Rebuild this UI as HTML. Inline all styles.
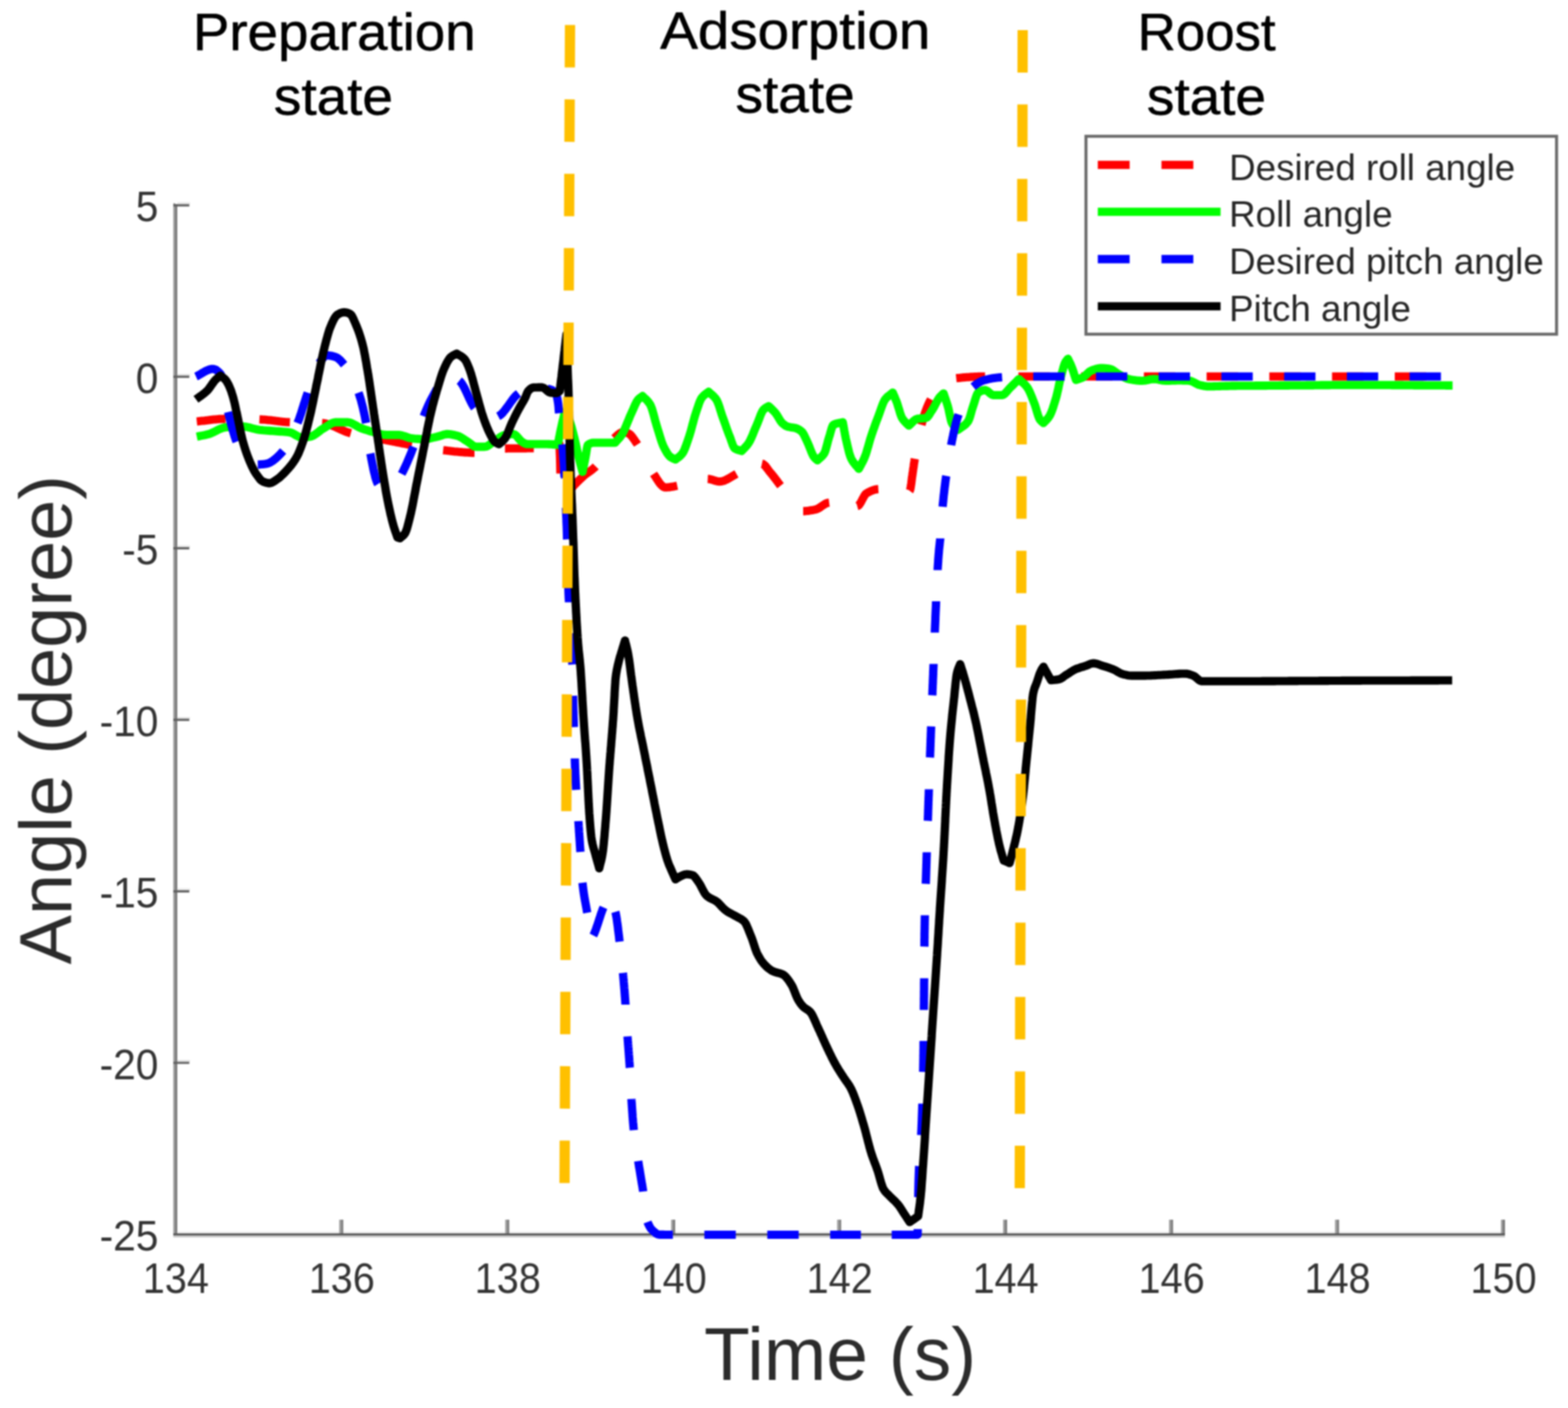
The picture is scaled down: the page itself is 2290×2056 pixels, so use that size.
<!DOCTYPE html>
<html lang="en"><head><meta charset="utf-8"><title>Angle vs Time</title>
<style>html,body{margin:0;padding:0;background:#fff}svg{display:block}</style></head>
<body>
<svg width="2290" height="2056" viewBox="0 0 2290 2056">
<rect width="2290" height="2056" fill="#fff"/>
<defs><filter id="soft" filterUnits="userSpaceOnUse" x="0" y="0" width="2290" height="2056" color-interpolation-filters="sRGB"><feGaussianBlur stdDeviation="1.0"/></filter></defs>
<g filter="url(#soft)">
<g fill="none" stroke-linecap="butt">
<path d="M254.55,296.8 V1804.0" stroke="#9a9a9a" stroke-width="2.9"/>
<path d="M257.45,298.1 V1804.0" stroke="#777777" stroke-width="2.9"/>
<path d="M253.1,1805.5 H2197.9" stroke="#cbcbcb" stroke-width="2.8"/>
<path d="M258.9,1799.5 H2197.9" stroke="#ededed" stroke-width="2.6"/>
<path d="M496.93,1802.5 v-21.5 M739.31,1802.5 v-21.5 M981.69,1802.5 v-21.5 M1224.07,1802.5 v-21.5 M1466.45,1802.5 v-21.5 M1708.83,1802.5 v-21.5 M1951.21,1802.5 v-21.5 M2193.59,1802.5 v-21.5" stroke="#9a9a9a" stroke-width="2.9"/>
<path d="M499.83,1802.5 v-21.5 M742.21,1802.5 v-21.5 M984.59,1802.5 v-21.5 M1226.97,1802.5 v-21.5 M1469.35,1802.5 v-21.5 M1711.73,1802.5 v-21.5 M1954.11,1802.5 v-21.5 M2196.49,1802.5 v-21.5" stroke="#777777" stroke-width="2.9"/>
<path d="M258.9,296.9 H277.5 M258.9,547.3 H277.5 M258.9,797.8 H277.5 M258.9,1048.2 H277.5 M258.9,1298.7 H277.5 M258.9,1549.1 H277.5" stroke="#e4e4e4" stroke-width="2.6"/>
<path d="M253.1,299.8 H276.5 M253.1,550.2 H276.5 M253.1,800.7 H276.5 M253.1,1051.1 H276.5 M253.1,1301.6 H276.5 M253.1,1552.0 H276.5" stroke="#5e5e5e" stroke-width="3.2"/>
<path d="M253.1,1802.5 H2197.9" stroke="#575757" stroke-width="3.2"/>
</g>
<g font-family="'Liberation Sans', Arial, Helvetica, sans-serif" fill="#333333">
<g font-size="62.2" text-anchor="middle">
<text x="256.8" y="1888" textLength="96.5" lengthAdjust="spacingAndGlyphs">134</text>
<text x="499.2" y="1888" textLength="96.5" lengthAdjust="spacingAndGlyphs">136</text>
<text x="741.6" y="1888" textLength="96.5" lengthAdjust="spacingAndGlyphs">138</text>
<text x="983.9" y="1888" textLength="96.5" lengthAdjust="spacingAndGlyphs">140</text>
<text x="1226.3" y="1888" textLength="96.5" lengthAdjust="spacingAndGlyphs">142</text>
<text x="1468.7" y="1888" textLength="96.5" lengthAdjust="spacingAndGlyphs">144</text>
<text x="1711.1" y="1888" textLength="96.5" lengthAdjust="spacingAndGlyphs">146</text>
<text x="1953.5" y="1888" textLength="96.5" lengthAdjust="spacingAndGlyphs">148</text>
<text x="2195.8" y="1888" textLength="96.5" lengthAdjust="spacingAndGlyphs">150</text>
</g>
<g font-size="62.2" text-anchor="end">
<text x="231.3" y="323.4" textLength="33.0" lengthAdjust="spacingAndGlyphs">5</text>
<text x="231.3" y="573.8" textLength="33.0" lengthAdjust="spacingAndGlyphs">0</text>
<text x="231.3" y="824.3" textLength="52.8" lengthAdjust="spacingAndGlyphs">-5</text>
<text x="231.3" y="1074.7" textLength="85.9" lengthAdjust="spacingAndGlyphs">-10</text>
<text x="231.3" y="1325.2" textLength="85.9" lengthAdjust="spacingAndGlyphs">-15</text>
<text x="231.3" y="1575.6" textLength="85.9" lengthAdjust="spacingAndGlyphs">-20</text>
<text x="231.3" y="1826.0" textLength="85.9" lengthAdjust="spacingAndGlyphs">-25</text>
</g>
<text x="1227" y="2014.6" font-size="109.5" text-anchor="middle" fill="#2b2b2b">Time (s)</text>
<text transform="translate(104.2,1051) rotate(-90)" font-size="108" text-anchor="middle" fill="#2b2b2b">Angle (degree)</text>
</g>
<path d="M287.4,615.4 L289.3,615.2 L291.2,615.0 L293.1,614.8 L295.1,614.6 L297.0,614.4 L298.9,614.2 L300.8,613.9 L302.7,613.7 L304.6,613.5 L306.5,613.2 L308.4,613.0 L310.4,612.8 L312.3,612.6 L314.2,612.4 L316.1,612.2 L318.0,612.1 L319.9,611.9 L321.8,611.8 L323.8,611.7 L325.7,611.7 L327.6,611.6 L329.5,611.6 L329.5,611.6 M378.9,612.4 L380.8,612.5 L382.8,612.6 L384.7,612.7 L386.6,612.8 L388.6,613.0 L390.5,613.2 L392.4,613.4 L394.4,613.6 L396.3,613.8 L398.2,614.1 L400.2,614.3 L402.1,614.6 L404.1,614.8 L406.0,615.0 L407.9,615.3 L409.9,615.5 L411.8,615.7 L413.7,615.9 L415.7,616.1 L417.6,616.2 L419.5,616.4 L421.5,616.5 L423.4,616.6 L423.4,616.6 M470.4,617.8 L472.2,617.9 L474.1,618.2 L475.9,618.5 L477.7,619.0 L479.5,619.5 L481.4,620.1 L483.2,620.7 L485.0,621.4 L486.8,622.2 L488.7,623.0 L490.5,623.8 L492.3,624.6 L494.1,625.5 L496.0,626.3 L497.8,627.1 L499.6,628.0 L501.4,628.8 L503.3,629.6 L505.1,630.3 L506.9,631.0 L508.7,631.6 L510.6,632.2 L512.4,632.7 L512.4,632.7 M557.0,641.3 L558.9,641.7 L560.9,642.1 L562.8,642.4 L564.7,642.8 L566.7,643.2 L568.6,643.6 L570.5,644.0 L572.5,644.4 L574.4,644.8 L576.3,645.2 L578.3,645.6 L580.2,645.9 L582.2,646.3 L584.1,646.7 L586.0,647.1 L588.0,647.5 L589.9,647.8 L591.8,648.2 L593.8,648.6 L595.7,648.9 L597.6,649.3 L599.6,649.7 L601.5,650.0 L601.5,650.0 M647.2,657.4 L649.2,657.6 L651.2,657.8 L653.2,658.1 L655.2,658.3 L657.2,658.5 L659.1,658.7 L661.1,658.9 L663.1,659.2 L665.1,659.4 L667.1,659.6 L669.1,659.8 L671.1,660.0 L673.1,660.1 L675.1,660.3 L677.1,660.5 L679.1,660.6 L681.1,660.7 L683.0,660.8 L685.0,660.9 L687.0,661.0 L689.0,661.1 L691.0,661.1 L693.0,661.1 L693.0,661.1 M737.5,654.9 L739.4,654.9 L741.3,654.8 L743.2,654.8 L745.2,654.8 L747.1,654.7 L749.0,654.7 L750.9,654.7 L752.8,654.7 L754.7,654.7 L756.6,654.7 L758.5,654.6 L760.5,654.6 L762.4,654.6 L764.3,654.6 L766.2,654.6 L768.1,654.6 L770.0,654.5 L771.9,654.5 L773.9,654.5 L775.8,654.5 L777.7,654.4 L779.6,654.4 L779.6,654.4 M816.6,645.7 L816.8,647.7 L817.0,650.0 L817.1,651.1 L817.2,652.4 L817.3,653.8 L817.4,655.3 L817.5,657.0 L817.5,658.8 L817.6,660.8 L817.7,662.9 L817.8,665.1 L817.9,667.5 L818.0,670.0 L818.0,671.5 L818.1,673.4 L818.1,675.5 L818.2,677.8 L818.2,680.2 L818.3,682.6 L818.3,684.9 L818.4,687.0 L818.4,688.9 L818.5,690.4 L818.5,691.5 L818.5,691.5 M835.5,712.0 L836.9,710.5 L838.2,708.9 L839.6,707.5 L840.9,706.1 L842.3,704.7 L843.6,703.3 L845.0,702.0 L846.3,700.7 L847.7,699.4 L849.0,698.2 L850.4,696.9 L851.7,695.7 L853.1,694.5 L854.6,693.2 L856.2,692.0 L857.7,690.9 L859.2,689.8 L860.8,688.7 L862.3,687.7 L863.9,686.5 L865.4,685.3 L866.9,684.0 L868.5,682.6 L870.0,681.0 L870.0,681.0 M897.0,640.0 L898.6,638.5 L900.2,637.0 L901.9,635.4 L903.5,634.0 L905.1,632.8 L906.8,631.9 L908.4,631.2 L910.0,631.0 L911.9,631.1 L913.7,631.5 L915.5,632.1 L917.4,632.7 L918.6,633.3 L919.9,634.2 L921.1,635.3 L922.3,636.7 L923.6,638.2 L924.8,639.9 L926.1,641.7 L927.3,643.5 L928.5,645.3 L929.8,647.2 L931.0,649.0 L931.0,649.0 M954.5,692.0 L955.7,693.8 L957.0,695.7 L958.2,697.7 L959.4,699.6 L960.7,701.5 L961.9,703.3 L963.1,705.1 L964.4,706.7 L965.6,708.1 L966.9,709.3 L968.1,710.4 L969.3,711.1 L970.6,711.6 L971.8,711.8 L973.7,711.8 L975.6,711.6 L977.6,711.4 L979.5,711.1 L981.4,710.8 L983.3,710.5 L985.3,710.1 L987.2,709.7 L989.1,709.3 L989.1,709.3 M1033.6,699.4 L1035.5,699.5 L1037.4,699.9 L1039.4,700.4 L1041.3,700.9 L1043.2,701.6 L1045.1,702.1 L1047.1,702.6 L1049.0,703.0 L1050.9,703.1 L1052.7,703.0 L1054.4,702.7 L1056.2,702.3 L1058.0,701.7 L1059.7,700.9 L1061.5,700.1 L1063.2,699.2 L1065.0,698.2 L1066.8,697.1 L1068.5,696.1 L1070.3,695.0 L1072.1,694.0 L1073.8,693.0 L1075.6,692.0 L1075.6,692.0 M1112.7,677.2 L1114.1,677.5 L1115.4,678.3 L1116.8,679.5 L1118.2,681.0 L1119.5,682.7 L1120.9,684.6 L1122.3,686.5 L1123.6,688.3 L1125.0,690.0 L1126.2,691.3 L1127.3,692.7 L1128.5,694.1 L1129.6,695.6 L1130.8,697.1 L1131.9,698.5 L1133.1,700.1 L1134.2,701.6 L1135.4,703.1 L1136.5,704.7 L1137.7,706.2 L1138.8,707.8 L1140.0,709.3 L1140.0,709.3 M1173.0,746.4 L1174.8,746.4 L1176.7,746.3 L1178.5,746.1 L1180.3,745.9 L1182.2,745.6 L1184.0,745.3 L1185.8,745.0 L1187.6,744.7 L1189.5,744.3 L1191.3,743.9 L1192.9,743.4 L1194.6,742.7 L1196.2,741.8 L1197.9,740.7 L1199.5,739.6 L1201.2,738.4 L1202.8,737.3 L1204.4,736.3 L1206.1,735.3 L1207.7,734.6 L1209.4,734.2 L1211.0,734.0 L1211.0,734.0 M1251.9,739.0 L1253.0,738.7 L1254.2,737.8 L1255.3,736.5 L1256.4,734.8 L1257.6,732.8 L1258.7,730.7 L1259.8,728.5 L1261.0,726.4 L1262.1,724.4 L1263.2,722.7 L1264.4,721.3 L1265.5,720.4 L1267.2,719.4 L1269.0,718.5 L1270.7,717.6 L1272.4,716.8 L1274.2,716.1 L1275.9,715.5 L1277.6,715.0 L1279.3,714.6 L1281.1,714.4 L1282.8,714.3 L1282.8,714.3 M1328.5,716.7 L1328.8,716.3 L1329.1,715.5 L1329.5,714.2 L1329.8,712.7 L1330.1,710.9 L1330.4,708.8 L1330.8,706.6 L1331.1,704.2 L1331.4,701.8 L1331.7,699.3 L1332.0,696.8 L1332.4,694.4 L1332.7,692.1 L1333.0,690.0 L1333.3,688.2 L1333.5,686.4 L1333.8,684.5 L1334.1,682.6 L1334.4,680.7 L1334.6,678.7 L1334.9,676.8 L1335.2,675.0 L1335.5,673.2 L1335.7,671.4 L1336.0,669.8 L1336.0,669.8 M1345.8,620.3 L1346.4,618.1 L1346.9,615.9 L1347.5,613.9 L1348.1,611.9 L1348.6,610.0 L1349.2,608.2 L1349.7,606.5 L1350.3,604.8 L1350.9,603.1 L1351.4,601.5 L1352.0,600.0 L1352.7,598.0 L1353.5,596.1 L1354.2,594.3 L1355.0,592.5 L1355.7,590.7 L1356.4,589.1 L1357.2,587.5 L1357.9,586.0 L1358.7,584.5 L1359.4,583.2 L1359.4,583.2 M1396.5,552.3 L1398.4,552.1 L1400.3,551.9 L1402.2,551.7 L1404.2,551.5 L1406.1,551.3 L1408.0,551.1 L1409.9,551.0 L1411.8,550.8 L1413.7,550.7 L1415.6,550.6 L1417.5,550.4 L1419.5,550.3 L1421.4,550.2 L1423.3,550.1 L1425.2,550.1 L1427.1,550.0 L1429.0,549.9 L1430.9,549.9 L1432.9,549.8 L1434.8,549.8 L1436.7,549.8 L1438.6,549.8 L1438.6,549.8 M1487.4,549.8 L1489.4,549.8 L1491.4,549.8 L1493.4,549.8 L1495.4,549.8 L1497.4,549.8 L1499.4,549.8 L1501.4,549.8 L1503.4,549.8 L1505.4,549.8 L1507.4,549.8 L1509.4,549.8 L1511.4,549.8 L1513.4,549.8 L1515.4,549.8 L1517.4,549.8 L1519.4,549.8 L1521.4,549.8 L1523.3,549.8 L1525.3,549.8 L1527.3,549.8 L1529.3,549.8 L1531.3,549.8 L1533.2,549.8 M1579.0,549.8 L1579.3,549.8 L1581.3,549.8 L1583.3,549.8 L1585.3,549.8 L1587.3,549.8 L1589.3,549.8 L1591.2,549.8 L1593.2,549.8 L1595.2,549.8 L1597.2,549.8 L1599.2,549.8 L1601.2,549.8 L1603.2,549.8 L1605.2,549.8 L1607.2,549.8 L1609.2,549.8 L1611.2,549.8 L1613.2,549.8 L1615.2,549.8 L1617.2,549.8 L1619.2,549.8 L1621.2,549.8 L1623.2,549.8 L1624.8,549.8 M1670.6,549.8 L1671.1,549.8 L1673.1,549.8 L1675.1,549.8 L1677.1,549.8 L1679.1,549.8 L1681.1,549.8 L1683.1,549.8 L1685.1,549.8 L1687.1,549.8 L1689.1,549.8 L1691.1,549.8 L1693.1,549.8 L1695.1,549.8 L1697.1,549.8 L1699.1,549.8 L1701.1,549.8 L1703.1,549.8 L1705.1,549.8 L1707.1,549.8 L1709.1,549.8 L1711.1,549.8 L1713.1,549.8 L1715.1,549.8 L1716.4,549.8 M1762.2,549.8 L1763.0,549.8 L1765.0,549.8 L1767.0,549.8 L1769.0,549.8 L1771.0,549.8 L1773.0,549.8 L1775.0,549.8 L1777.0,549.8 L1779.0,549.8 L1781.0,549.8 L1783.0,549.8 L1785.0,549.8 L1787.0,549.8 L1789.0,549.8 L1791.0,549.8 L1793.0,549.8 L1795.0,549.8 L1796.9,549.8 L1798.9,549.8 L1800.9,549.8 L1802.9,549.8 L1804.9,549.8 L1806.9,549.8 L1808.0,549.8 M1853.8,549.8 L1854.9,549.8 L1856.9,549.8 L1858.9,549.8 L1860.9,549.8 L1862.9,549.8 L1864.8,549.8 L1866.8,549.8 L1868.8,549.8 L1870.8,549.8 L1872.8,549.8 L1874.8,549.8 L1876.8,549.8 L1878.8,549.8 L1880.8,549.8 L1882.8,549.8 L1884.8,549.8 L1886.8,549.8 L1888.8,549.8 L1890.8,549.8 L1892.8,549.8 L1894.8,549.8 L1896.8,549.8 L1898.8,549.8 L1899.6,549.8 M1945.4,549.8 L1946.7,549.8 L1948.7,549.8 L1950.7,549.8 L1952.7,549.8 L1954.7,549.8 L1956.7,549.8 L1958.7,549.8 L1960.7,549.8 L1962.7,549.8 L1964.7,549.8 L1966.7,549.8 L1968.7,549.8 L1970.7,549.8 L1972.7,549.8 L1974.7,549.8 L1976.7,549.8 L1978.7,549.8 L1980.7,549.8 L1982.7,549.8 L1984.7,549.8 L1986.7,549.8 L1988.7,549.8 L1990.7,549.8 L1991.2,549.8 M2037.0,549.8 L2038.6,549.8 L2040.6,549.8 L2042.6,549.8 L2044.6,549.8 L2046.6,549.8 L2048.6,549.8 L2050.6,549.8 L2052.6,549.8 L2054.6,549.8 L2056.6,549.8 L2058.6,549.8 L2060.6,549.8 L2062.6,549.8 L2064.6,549.8 L2066.6,549.8 L2068.6,549.8 L2070.5,549.8 L2072.5,549.8 L2074.5,549.8 L2076.5,549.8 L2078.5,549.8 L2080.5,549.8 L2082.5,549.8 L2082.8,549.8" fill="none" stroke="#ff0000" stroke-width="12.1" stroke-linejoin="round" stroke-linecap="butt"/>
<path d="M287.4,637.6 L290.3,637.0 L293.2,636.4 L296.0,635.9 L298.9,635.3 L301.8,634.6 L304.7,633.9 L307.5,633.0 L310.2,631.8 L313.0,630.5 L315.7,629.1 L318.5,627.7 L321.2,626.4 L324.0,625.3 L326.7,624.5 L329.5,624.0 L332.2,623.8 L335.0,623.6 L337.7,623.4 L340.5,623.2 L343.2,623.1 L346.0,623.0 L348.7,622.9 L351.5,622.8 L354.2,622.8 L356.9,622.9 L359.7,623.3 L362.4,623.9 L365.2,624.5 L367.9,625.3 L370.7,626.0 L373.4,626.7 L376.2,627.3 L378.9,627.7 L381.6,628.0 L384.4,628.3 L387.1,628.5 L389.9,628.7 L392.6,628.9 L395.4,629.1 L398.1,629.3 L400.9,629.5 L403.6,629.7 L406.4,629.9 L409.3,630.1 L412.1,630.3 L414.9,630.5 L417.7,630.7 L420.6,631.0 L423.4,631.4 L425.9,632.1 L428.3,633.2 L430.8,634.7 L433.3,636.2 L435.8,637.5 L438.2,638.4 L440.7,638.8 L443.2,638.7 L445.7,638.6 L448.1,638.3 L450.6,638.0 L453.1,637.6 L455.6,636.9 L458.1,635.7 L460.5,634.2 L463.0,632.4 L465.5,630.5 L467.9,628.5 L470.4,626.7 L472.9,625.2 L475.4,623.7 L477.8,622.1 L480.3,620.5 L482.8,619.0 L485.3,617.7 L487.7,616.9 L490.2,616.6 L493.1,616.6 L496.0,616.6 L498.9,616.6 L501.7,616.6 L504.6,616.6 L507.5,616.6 L510.0,616.9 L512.5,617.6 L514.9,618.7 L517.4,620.0 L519.9,621.4 L522.3,622.8 L524.8,624.1 L527.3,625.2 L530.1,626.2 L533.0,627.2 L535.8,628.1 L538.6,629.0 L541.4,629.9 L544.3,630.7 L547.1,631.4 L550.0,632.2 L552.9,633.0 L555.8,633.8 L558.6,634.5 L561.5,634.9 L564.4,635.1 L567.3,635.1 L570.2,635.1 L573.0,635.1 L575.9,635.1 L578.8,635.1 L581.7,635.1 L584.5,635.3 L587.4,636.0 L590.2,636.8 L593.0,637.8 L595.8,638.8 L598.7,639.6 L601.5,640.1 L604.4,640.4 L607.3,640.7 L610.1,640.9 L613.0,641.1 L615.9,641.3 L618.8,641.3 L621.6,641.2 L624.5,640.8 L627.3,640.3 L630.1,639.7 L632.9,639.0 L635.8,638.3 L638.6,637.6 L641.1,637.0 L643.5,636.2 L646.0,635.4 L648.5,634.6 L650.9,634.1 L653.4,633.9 L655.9,634.0 L658.3,634.3 L660.8,634.7 L663.3,635.2 L665.7,635.8 L668.2,636.4 L670.7,637.3 L673.2,638.6 L675.7,640.1 L678.1,641.8 L680.6,643.4 L683.1,645.0 L685.6,646.7 L688.0,648.6 L690.5,650.5 L692.9,651.9 L695.4,652.4 L697.9,652.4 L700.4,652.4 L702.8,652.4 L705.3,652.4 L707.8,652.4 L710.3,652.0 L712.7,650.8 L715.2,649.2 L717.7,647.3 L720.1,645.4 L722.6,643.8 L725.1,642.2 L727.6,640.4 L730.0,638.7 L732.5,637.1 L735.0,635.8 L737.5,635.1 L740.0,634.7 L742.4,634.4 L744.9,634.1 L747.3,634.0 L749.8,633.9 L751.9,634.6 L753.9,636.2 L756.0,638.5 L758.1,641.0 L760.1,643.3 L762.2,645.0 L764.7,646.6 L767.2,647.9 L769.7,648.5 L772.7,648.5 L775.6,648.5 L778.6,648.5 L781.5,648.5 L784.5,648.5 L787.5,648.5 L790.4,648.5 L793.4,648.5 L796.3,648.5 L799.3,648.5 L801.8,648.6 L804.4,648.7 L806.9,648.9 L809.4,649.1 L812.0,649.3 L814.5,649.5 L815.1,646.8 L815.6,644.0 L816.2,641.2 L816.7,638.5 L817.3,635.7 L817.8,633.0 L818.4,630.3 L818.9,627.6 L819.5,625.0 L820.1,622.2 L820.7,619.5 L821.3,616.8 L821.9,614.1 L822.6,611.5 L823.2,608.9 L823.8,606.3 L824.4,603.7 L825.0,601.0 L826.2,603.2 L827.3,605.4 L828.5,607.5 L829.7,609.7 L830.8,612.2 L832.0,615.0 L832.8,617.1 L833.5,619.4 L834.3,622.0 L835.1,624.7 L835.8,627.5 L836.6,630.5 L837.4,633.5 L838.1,636.5 L838.9,639.6 L839.5,642.1 L840.1,644.8 L840.8,647.6 L841.4,650.4 L842.0,653.3 L842.6,656.2 L843.2,659.1 L843.8,661.9 L844.5,664.7 L845.1,667.4 L845.7,670.0 L846.4,672.9 L847.2,675.7 L847.9,678.4 L848.6,681.0 L849.3,683.7 L850.1,686.3 L850.8,689.0 L851.3,686.4 L851.8,683.8 L852.4,681.1 L852.9,678.5 L853.4,675.9 L854.0,673.2 L854.5,670.6 L855.0,668.0 L855.5,665.1 L856.1,661.8 L856.6,658.4 L857.1,655.2 L857.6,652.5 L858.2,650.5 L858.7,649.5 L861.3,647.8 L864.0,646.8 L866.6,646.5 L869.5,646.5 L872.4,646.5 L875.2,646.5 L878.1,646.5 L881.0,646.5 L883.9,646.5 L886.8,646.5 L889.7,646.5 L892.5,646.5 L895.4,646.5 L898.3,646.5 L899.9,644.6 L901.6,642.8 L903.2,641.0 L904.9,639.1 L906.6,637.0 L908.2,634.6 L909.4,632.6 L910.6,630.4 L911.7,628.0 L912.9,625.4 L914.1,622.6 L915.2,619.8 L916.4,616.9 L917.6,614.0 L918.8,611.1 L919.9,608.3 L921.1,605.6 L922.3,603.0 L923.5,600.3 L924.8,597.5 L926.0,594.6 L927.2,591.8 L928.5,589.2 L929.7,586.8 L931.0,584.8 L932.2,583.2 L934.3,581.3 L936.3,579.8 L938.4,578.3 L940.2,580.2 L942.1,581.9 L944.0,583.7 L945.8,585.6 L947.6,587.8 L949.5,590.6 L950.3,592.2 L951.1,594.2 L952.0,596.5 L952.8,599.1 L953.6,601.9 L954.5,604.9 L955.3,608.0 L956.1,611.1 L956.9,614.2 L957.8,617.2 L958.6,620.1 L959.4,622.8 L960.3,625.7 L961.2,628.6 L962.1,631.6 L963.0,634.6 L963.9,637.5 L964.8,640.4 L965.7,643.2 L966.6,645.8 L967.5,648.2 L968.4,650.5 L969.3,652.4 L970.9,655.6 L972.6,658.7 L974.2,661.4 L975.9,663.8 L977.6,665.8 L979.2,667.3 L981.7,668.8 L984.1,669.9 L986.6,671.0 L988.6,669.4 L990.6,667.9 L992.5,666.4 L994.5,664.6 L996.5,662.3 L997.6,660.6 L998.7,658.6 L999.8,656.1 L1000.9,653.4 L1002.0,650.4 L1003.1,647.3 L1004.2,644.1 L1005.3,640.8 L1006.4,637.6 L1007.2,635.1 L1008.0,632.4 L1008.9,629.5 L1009.7,626.5 L1010.5,623.5 L1011.3,620.3 L1012.2,617.2 L1013.0,614.2 L1013.8,611.2 L1014.6,608.3 L1015.5,605.5 L1016.3,603.0 L1017.4,599.7 L1018.5,596.4 L1019.6,593.2 L1020.6,590.1 L1021.7,587.2 L1022.8,584.6 L1023.9,582.4 L1025.0,580.7 L1027.0,578.4 L1028.9,576.6 L1030.9,575.1 L1032.8,573.7 L1034.8,572.1 L1036.7,573.8 L1038.5,575.4 L1040.4,577.0 L1042.3,578.7 L1044.1,580.7 L1046.0,583.2 L1047.0,584.9 L1048.0,587.0 L1049.0,589.5 L1050.0,592.3 L1051.0,595.2 L1051.9,598.3 L1052.9,601.4 L1053.9,604.6 L1054.9,607.6 L1055.9,610.4 L1056.9,613.1 L1057.9,615.9 L1058.9,618.7 L1059.9,621.5 L1060.8,624.3 L1061.8,627.0 L1062.8,629.8 L1063.8,632.5 L1064.8,635.1 L1065.8,637.6 L1066.9,640.4 L1067.9,643.5 L1069.0,646.5 L1070.0,649.4 L1071.1,651.8 L1072.1,653.7 L1073.2,654.9 L1075.7,656.2 L1078.2,657.1 L1080.6,657.8 L1083.1,658.6 L1085.1,656.5 L1087.1,654.5 L1089.0,652.4 L1091.0,650.2 L1093.0,647.5 L1094.2,645.5 L1095.5,643.2 L1096.7,640.7 L1097.9,638.0 L1099.2,635.1 L1100.4,632.1 L1101.6,629.1 L1102.8,626.1 L1104.1,623.1 L1105.3,620.3 L1106.4,617.7 L1107.5,614.9 L1108.6,612.0 L1109.7,609.1 L1110.8,606.2 L1111.9,603.6 L1113.0,601.3 L1114.1,599.4 L1115.2,598.0 L1117.7,596.0 L1120.1,594.5 L1122.6,593.1 L1124.6,595.0 L1126.6,596.9 L1128.5,598.8 L1130.5,600.8 L1132.5,603.0 L1134.2,605.3 L1135.8,607.9 L1137.5,610.8 L1139.1,613.5 L1140.8,615.9 L1142.4,617.8 L1144.9,619.9 L1147.3,621.7 L1149.8,622.8 L1152.3,623.4 L1154.8,623.9 L1157.2,624.2 L1159.7,624.6 L1162.2,625.2 L1164.4,626.0 L1166.6,627.1 L1168.7,628.5 L1170.9,630.2 L1172.2,631.7 L1173.6,633.9 L1174.9,636.5 L1176.2,639.3 L1177.6,642.2 L1178.9,645.0 L1180.0,647.4 L1181.1,650.0 L1182.2,652.8 L1183.3,655.6 L1184.4,658.4 L1185.5,661.1 L1186.6,663.5 L1187.7,665.6 L1188.8,667.3 L1190.4,669.2 L1192.1,670.7 L1193.7,672.2 L1195.7,670.4 L1197.7,668.8 L1199.6,667.1 L1201.6,665.0 L1203.6,662.3 L1204.4,660.7 L1205.3,658.5 L1206.1,655.8 L1206.9,652.9 L1207.8,649.7 L1208.6,646.5 L1209.4,643.3 L1210.3,640.3 L1211.1,637.6 L1212.0,634.8 L1212.8,631.7 L1213.7,628.6 L1214.6,625.6 L1215.5,623.1 L1216.3,621.3 L1217.2,620.3 L1219.9,619.1 L1222.6,618.3 L1225.4,617.7 L1228.1,617.2 L1230.8,616.6 L1231.4,619.5 L1231.9,622.5 L1232.5,625.6 L1233.0,628.6 L1233.6,631.6 L1234.1,634.6 L1234.7,637.4 L1235.2,640.1 L1235.8,642.6 L1236.5,645.8 L1237.3,649.1 L1238.0,652.3 L1238.8,655.4 L1239.5,658.4 L1240.2,661.2 L1241.0,663.8 L1241.7,666.1 L1242.5,668.1 L1243.2,669.8 L1244.8,672.7 L1246.4,675.1 L1248.0,677.2 L1249.5,679.1 L1251.1,680.8 L1252.7,682.6 L1254.3,684.6 L1255.5,682.2 L1256.8,679.9 L1258.0,677.6 L1259.3,675.3 L1260.5,672.8 L1261.8,670.2 L1263.0,667.3 L1263.8,665.2 L1264.7,662.8 L1265.5,660.2 L1266.3,657.5 L1267.1,654.7 L1268.0,651.8 L1268.8,648.9 L1269.6,646.0 L1270.4,643.1 L1271.2,640.3 L1272.1,637.6 L1272.9,635.1 L1273.9,632.2 L1274.9,629.3 L1275.9,626.5 L1276.9,623.8 L1277.8,621.1 L1278.8,618.4 L1279.8,615.7 L1280.8,613.1 L1281.8,610.5 L1282.8,607.9 L1283.9,604.9 L1285.0,601.8 L1286.1,598.6 L1287.2,595.5 L1288.3,592.5 L1289.4,589.6 L1290.5,587.1 L1291.6,584.9 L1292.7,583.2 L1294.9,580.6 L1297.1,578.5 L1299.4,576.8 L1301.6,575.1 L1303.8,573.3 L1304.8,575.7 L1305.9,578.1 L1306.9,580.6 L1307.9,583.0 L1309.0,585.5 L1310.0,588.2 L1310.9,590.9 L1311.8,593.9 L1312.8,597.0 L1313.7,600.2 L1314.6,603.3 L1315.6,606.1 L1316.5,608.5 L1317.4,610.4 L1319.4,613.3 L1321.4,615.6 L1323.3,617.6 L1325.3,619.5 L1327.3,621.5 L1329.3,619.7 L1331.4,617.6 L1333.4,615.6 L1335.5,613.7 L1337.5,612.4 L1339.6,611.6 L1342.1,611.3 L1344.6,611.1 L1347.0,610.9 L1349.5,610.8 L1352.0,610.4 L1353.7,609.6 L1355.3,608.0 L1357.0,605.8 L1358.6,603.2 L1360.2,600.5 L1361.9,598.0 L1363.3,595.7 L1364.7,593.2 L1366.1,590.5 L1367.6,587.7 L1369.0,585.1 L1370.4,582.7 L1371.8,580.7 L1373.9,578.4 L1375.9,576.5 L1378.0,574.5 L1378.9,577.1 L1379.8,579.7 L1380.7,582.2 L1381.5,584.7 L1382.4,587.4 L1383.3,590.2 L1384.2,593.1 L1384.9,595.7 L1385.6,598.6 L1386.2,601.8 L1386.9,605.1 L1387.6,608.3 L1388.3,611.3 L1388.9,614.0 L1389.6,616.2 L1390.3,617.8 L1392.0,620.6 L1393.8,622.6 L1395.5,624.3 L1397.3,625.9 L1399.0,627.7 L1401.1,626.1 L1403.2,624.7 L1405.3,623.3 L1407.5,621.8 L1409.6,620.1 L1411.7,618.0 L1413.8,615.4 L1414.7,613.7 L1415.7,611.4 L1416.6,608.7 L1417.5,605.6 L1418.4,602.3 L1419.3,599.0 L1420.3,595.9 L1421.2,593.1 L1422.1,590.3 L1423.1,587.3 L1424.0,584.2 L1425.0,581.2 L1425.9,578.5 L1426.8,576.1 L1427.8,574.3 L1428.7,573.3 L1431.2,571.8 L1433.7,570.6 L1436.1,569.9 L1438.6,569.6 L1441.1,570.4 L1443.5,572.2 L1446.0,574.4 L1448.4,576.2 L1450.9,577.0 L1453.4,577.0 L1455.9,577.0 L1458.3,577.0 L1460.8,577.0 L1463.3,577.0 L1465.3,576.4 L1467.4,575.0 L1469.4,572.9 L1471.5,570.5 L1473.5,568.1 L1475.6,565.9 L1477.7,563.9 L1479.7,561.9 L1481.8,559.8 L1483.9,557.7 L1485.9,555.6 L1488.0,553.5 L1490.1,555.5 L1492.1,557.3 L1494.2,559.1 L1496.3,561.0 L1498.3,563.3 L1500.4,565.9 L1501.5,567.6 L1502.6,569.6 L1503.7,571.9 L1504.8,574.4 L1505.9,577.0 L1507.0,579.7 L1508.1,582.6 L1509.2,585.4 L1510.3,588.2 L1511.3,590.8 L1512.2,593.8 L1513.2,596.9 L1514.1,600.2 L1515.1,603.3 L1516.0,606.3 L1517.0,609.0 L1517.9,611.2 L1518.9,612.9 L1520.6,614.8 L1522.2,616.3 L1523.9,617.8 L1525.6,615.9 L1527.3,614.2 L1529.1,612.4 L1530.8,610.4 L1532.5,607.9 L1533.5,606.2 L1534.5,604.1 L1535.5,601.8 L1536.5,599.3 L1537.5,596.5 L1538.4,593.6 L1539.4,590.5 L1540.4,587.3 L1541.4,584.0 L1542.4,580.7 L1543.1,578.3 L1543.7,575.6 L1544.4,572.7 L1545.1,569.6 L1545.8,566.5 L1546.4,563.3 L1547.1,560.1 L1547.8,557.0 L1548.5,554.0 L1549.1,551.2 L1549.8,548.6 L1550.7,545.3 L1551.6,542.0 L1552.5,538.8 L1553.3,535.8 L1554.2,533.0 L1555.1,530.7 L1556.0,528.8 L1557.2,526.9 L1558.5,525.4 L1559.7,523.9 L1560.8,526.3 L1561.9,528.6 L1563.1,531.0 L1564.2,533.5 L1565.3,536.2 L1566.2,538.6 L1567.1,541.1 L1568.0,543.8 L1568.8,546.5 L1569.7,549.3 L1570.6,552.1 L1571.5,554.8 L1574.0,553.9 L1576.5,553.1 L1578.9,552.2 L1581.4,551.1 L1583.5,549.8 L1585.5,548.0 L1587.6,546.0 L1589.6,544.0 L1591.7,542.3 L1593.7,541.2 L1596.2,540.3 L1598.7,539.4 L1601.2,538.6 L1603.6,538.0 L1606.1,537.6 L1608.6,537.5 L1611.1,537.6 L1613.5,537.7 L1616.0,538.0 L1618.4,538.3 L1620.9,538.7 L1623.4,539.5 L1625.9,541.0 L1628.3,542.7 L1630.8,544.5 L1633.3,546.1 L1635.8,547.5 L1638.3,549.0 L1640.8,550.4 L1643.2,551.7 L1645.7,552.8 L1648.2,553.5 L1651.0,554.1 L1653.8,554.6 L1656.6,555.1 L1659.5,555.4 L1662.3,555.7 L1665.1,555.9 L1667.9,556.0 L1670.8,555.8 L1673.7,555.4 L1676.6,554.8 L1679.4,554.1 L1682.3,553.7 L1685.2,553.5 L1688.1,553.7 L1691.0,554.1 L1693.9,554.8 L1696.8,555.4 L1699.7,555.8 L1702.6,556.0 L1705.4,556.0 L1708.2,555.9 L1711.0,555.8 L1713.9,555.7 L1716.7,555.6 L1719.5,555.5 L1722.3,555.5 L1725.3,555.5 L1728.3,555.6 L1731.2,555.7 L1734.2,555.8 L1737.2,556.0 L1739.7,556.5 L1742.1,557.5 L1744.6,558.8 L1747.1,560.2 L1749.5,561.4 L1752.0,562.2 L1754.5,562.8 L1757.0,563.3 L1759.4,563.8 L1761.9,564.1 L1764.4,564.2 L1767.3,564.2 L1770.1,564.2 L1773.0,564.1 L1775.8,564.0 L1778.7,564.0 L1781.5,563.9 L1784.4,563.8 L1787.2,563.7 L1790.1,563.6 L1792.9,563.6 L1795.8,563.5 L1798.6,563.4 L1801.5,563.4 L1804.5,563.4 L1807.4,563.3 L1810.4,563.3 L1813.4,563.3 L1816.3,563.3 L1819.3,563.2 L1822.2,563.2 L1825.2,563.2 L1828.2,563.2 L1831.1,563.2 L1834.1,563.1 L1837.1,563.1 L1840.0,563.1 L1843.0,563.1 L1846.0,563.1 L1848.9,563.1 L1851.9,563.0 L1854.9,563.0 L1857.8,563.0 L1860.8,563.0 L1863.7,563.0 L1866.7,563.0 L1869.7,562.9 L1872.6,562.9 L1875.6,562.9 L1878.6,562.9 L1881.6,562.9 L1884.5,562.8 L1887.5,562.8 L1890.5,562.8 L1893.5,562.8 L1896.5,562.7 L1899.5,562.7 L1902.4,562.7 L1905.4,562.7 L1908.4,562.6 L1911.4,562.6 L1914.4,562.6 L1917.4,562.6 L1920.3,562.5 L1923.3,562.5 L1926.3,562.5 L1929.3,562.4 L1932.3,562.4 L1935.3,562.4 L1938.2,562.4 L1941.2,562.4 L1944.2,562.3 L1947.2,562.3 L1950.2,562.3 L1953.2,562.3 L1956.1,562.3 L1959.1,562.3 L1962.1,562.2 L1965.1,562.2 L1968.1,562.2 L1971.1,562.2 L1974.0,562.2 L1977.0,562.2 L1980.0,562.2 L1982.9,562.2 L1985.9,562.2 L1988.8,562.2 L1991.8,562.2 L1994.7,562.2 L1997.7,562.2 L2000.6,562.2 L2003.6,562.2 L2006.5,562.2 L2009.5,562.3 L2012.4,562.3 L2015.3,562.3 L2018.3,562.3 L2021.2,562.3 L2024.2,562.3 L2027.1,562.3 L2030.1,562.3 L2033.0,562.4 L2036.0,562.4 L2038.9,562.4 L2041.9,562.4 L2044.8,562.4 L2047.8,562.4 L2050.7,562.5 L2053.6,562.5 L2056.6,562.5 L2059.5,562.5 L2062.5,562.5 L2065.4,562.6 L2068.4,562.6 L2071.3,562.6 L2074.3,562.6 L2077.2,562.6 L2080.2,562.7 L2083.1,562.7 L2086.1,562.7 L2089.0,562.7 L2091.9,562.7 L2094.9,562.7 L2097.8,562.8 L2100.8,562.8 L2103.7,562.8 L2106.7,562.8 L2109.6,562.8 L2112.6,562.9 L2115.5,562.9 L2118.5,562.9 L2121.4,562.9" fill="none" stroke="#00ff00" stroke-width="12.1" stroke-linejoin="round" stroke-linecap="butt"/>
<path d="M286.2,549.8 L288.0,549.0 L289.7,548.0 L291.5,547.0 L293.3,546.0 L295.0,544.9 L296.8,543.9 L298.5,542.9 L300.3,541.9 L302.1,541.0 L303.8,540.3 L305.6,539.6 L307.4,539.1 L309.1,538.8 L310.9,538.7 L312.5,538.9 L314.1,539.4 L315.7,540.2 L317.2,541.4 L318.8,542.7 L320.4,544.3 L322.0,546.1 L322.4,546.7 L322.8,547.4 L323.2,548.4 L323.5,549.6 L323.9,550.9 L324.3,552.4 L324.6,553.5 M333.2,601.7 L333.7,603.9 L334.3,606.1 L334.8,608.3 L335.3,610.5 L335.9,612.6 L336.4,614.7 L336.9,616.9 L337.5,618.9 L338.0,621.0 L338.5,623.0 L339.1,625.0 L339.6,627.0 L340.2,628.9 L340.7,630.7 L341.2,632.5 L341.8,634.3 L342.3,636.0 L342.8,637.7 L343.4,639.3 L343.9,640.8 L344.4,642.3 L345.0,643.7 L345.5,645.0 L345.5,645.0 M376.4,678.4 L378.2,678.4 L379.9,678.3 L381.7,678.1 L383.5,677.9 L385.3,677.7 L387.0,677.5 L388.8,677.2 L390.3,676.9 L391.9,676.4 L393.4,675.8 L395.0,675.0 L396.5,674.1 L398.1,673.1 L399.6,672.0 L401.1,670.8 L402.7,669.5 L404.2,668.1 L405.8,666.7 L407.3,665.1 L408.9,663.6 L410.4,661.9 L412.0,660.3 L413.5,658.6 L413.5,658.6 M434.5,617.8 L435.1,616.3 L435.7,614.7 L436.4,613.1 L437.0,611.4 L437.6,609.6 L438.2,607.8 L438.8,606.0 L439.5,604.1 L440.1,602.2 L440.7,600.2 L441.3,598.3 L441.9,596.3 L442.6,594.3 L443.2,592.3 L443.8,590.3 L444.4,588.4 L445.1,586.4 L445.7,584.4 L446.3,582.5 L446.9,580.6 L447.5,578.7 L448.2,576.9 L448.8,575.1 L449.4,573.3 L449.4,573.3 M466.2,530.3 L466.9,529.3 L468.2,527.4 L469.6,525.5 L471.0,523.7 L472.3,522.1 L473.7,520.8 L475.1,519.8 L476.4,519.1 L477.8,518.9 L479.6,519.0 L481.3,519.2 L483.1,519.5 L484.9,519.8 L486.7,520.3 L488.4,520.8 L490.2,521.4 L491.6,522.0 L493.0,522.8 L494.3,523.8 L495.7,525.0 L497.1,526.3 L498.5,527.7 L499.8,529.3 L501.2,530.9 L502.6,532.5 L502.6,532.5 M523.6,573.3 L524.1,574.6 L524.6,576.0 L525.0,577.5 L525.5,579.0 L526.0,580.5 L526.5,582.1 L527.0,583.8 L527.5,585.5 L527.9,587.3 L528.4,589.1 L528.9,591.0 L529.4,593.0 L529.9,594.9 L530.4,597.0 L530.8,599.1 L531.3,601.2 L531.8,603.4 L532.3,605.7 L532.8,608.0 L533.3,610.4 L533.7,612.8 L534.2,615.3 L534.7,617.8 L534.7,617.8 M540.9,662.3 L541.4,664.8 L541.9,667.4 L542.3,669.9 L542.8,672.4 L543.3,674.9 L543.8,677.4 L544.3,679.8 L544.8,682.1 L545.2,684.4 L545.7,686.6 L546.2,688.8 L546.7,690.9 L547.2,692.9 L547.7,694.8 L548.1,696.6 L548.6,698.3 L549.1,699.9 L549.6,701.4 L550.1,702.8 L550.6,704.0 L551.0,705.1 L551.5,706.0 L552.0,706.8 L552.0,706.8 M586.6,692.0 L587.4,690.5 L588.2,689.0 L589.0,687.5 L589.7,685.9 L590.5,684.3 L591.3,682.6 L592.1,680.9 L592.9,679.2 L593.7,677.4 L594.5,675.7 L595.2,673.8 L596.0,672.0 L596.8,670.1 L597.6,668.2 L598.4,666.3 L599.2,664.4 L600.0,662.4 L600.8,660.5 L601.5,658.5 L602.3,656.5 L603.1,654.4 L603.9,652.4 L603.9,652.4 M618.8,607.9 L619.6,605.8 L620.4,603.8 L621.3,601.8 L622.1,599.8 L622.9,597.9 L623.7,595.9 L624.5,594.1 L625.4,592.2 L626.2,590.4 L627.0,588.7 L627.8,587.0 L628.6,585.3 L629.5,583.7 L630.3,582.2 L631.1,580.7 L632.2,578.7 L633.3,576.6 L634.4,574.4 L635.6,572.3 L636.7,570.1 L637.8,567.9 L637.9,567.7 M670.7,556.0 L671.7,556.8 L672.6,557.7 L673.6,558.9 L674.6,560.3 L675.5,561.8 L676.5,563.4 L677.5,565.2 L678.5,567.0 L679.4,569.0 L680.4,571.0 L681.4,573.1 L682.3,575.2 L683.3,577.3 L684.3,579.5 L685.2,581.6 L686.2,583.6 L687.2,585.7 L688.2,587.6 L689.1,589.5 L690.1,591.2 L691.1,592.8 L692.0,594.3 L693.0,595.6 L693.0,595.6 M727.6,607.9 L728.9,607.2 L730.2,606.4 L731.5,605.4 L732.8,604.2 L734.1,602.9 L735.3,601.4 L736.6,599.9 L737.9,598.2 L739.2,596.5 L740.5,594.8 L741.8,593.0 L743.1,591.2 L744.4,589.3 L745.7,587.5 L747.0,585.7 L748.3,584.0 L749.6,582.3 L750.8,580.7 L752.1,579.2 L753.4,577.8 L754.7,576.6 L756.0,575.5 L757.3,574.5 L757.3,574.5 M799.4,567.6 L800.7,567.9 L802.4,568.4 L804.2,568.9 L806.0,569.5 L807.3,570.2 L808.6,571.2 L809.9,572.5 L811.2,573.8 L812.5,575.0 L812.9,576.8 L813.2,578.4 L813.6,580.1 L813.9,581.8 L814.3,583.6 L814.6,585.6 L815.0,588.0 L815.2,589.5 L815.4,591.2 L815.6,593.1 L815.8,595.2 L815.9,597.3 L816.1,599.4 L816.3,601.4 L816.5,603.3 L816.5,603.3 M821.3,648.8 L821.5,650.7 L821.7,652.6 L821.8,654.6 L822.0,656.6 L822.2,658.6 L822.3,660.8 L822.5,663.0 L822.7,665.2 L822.8,667.6 L823.0,670.0 L823.1,671.5 L823.2,673.0 L823.3,674.5 L823.4,676.2 L823.5,677.9 L823.6,679.6 L823.7,681.4 L823.8,683.2 L823.9,685.1 L824.0,687.0 L824.1,689.0 L824.2,690.9 L824.2,692.9 L824.3,695.0 L824.4,695.1 M826.5,741.4 L826.6,743.3 L826.7,745.2 L826.8,747.1 L826.8,749.0 L826.9,751.0 L827.0,752.9 L827.1,755.0 L827.2,757.0 L827.3,759.1 L827.3,761.3 L827.4,763.5 L827.5,765.7 L827.6,768.0 L827.7,769.5 L827.7,771.1 L827.8,772.8 L827.8,774.5 L827.9,776.3 L827.9,778.1 L828.0,780.0 L828.0,781.9 L828.1,783.8 L828.1,785.8 L828.2,787.6 M829.4,833.8 L829.4,836.0 L829.5,838.1 L829.5,840.2 L829.6,842.3 L829.6,844.3 L829.7,846.3 L829.7,848.3 L829.8,850.2 L829.9,852.1 L829.9,853.9 L830.0,855.7 L830.0,857.4 L830.1,859.1 L830.1,860.8 L830.2,862.3 L830.2,863.8 L830.3,865.3 L830.3,866.7 L830.4,868.0 L830.5,870.7 L830.6,873.3 L830.8,875.7 L830.9,878.1 L830.9,879.4 M834.0,924.9 L834.2,926.8 L834.3,928.9 L834.4,931.0 L834.5,933.3 L834.6,935.6 L834.7,938.0 L834.9,940.6 L835.0,943.2 L835.1,946.0 L835.2,947.3 L835.2,948.6 L835.3,950.0 L835.3,951.5 L835.4,953.0 L835.4,954.5 L835.5,956.2 L835.5,957.8 L835.6,959.6 L835.6,961.3 L835.7,963.2 L835.7,965.0 L835.8,966.9 L835.8,968.9 L835.9,970.4 M836.9,1016.0 L837.0,1018.1 L837.0,1020.2 L837.1,1022.3 L837.1,1024.4 L837.2,1026.4 L837.2,1028.5 L837.3,1030.4 L837.3,1032.4 L837.4,1034.3 L837.4,1036.2 L837.5,1038.0 L837.6,1040.1 L837.6,1042.3 L837.7,1044.4 L837.7,1046.6 L837.8,1048.7 L837.9,1050.9 L837.9,1053.1 L838.0,1055.3 L838.0,1057.4 L838.1,1059.6 L838.2,1061.8 M839.5,1107.6 L839.5,1109.4 L839.6,1111.2 L839.6,1113.0 L839.7,1114.8 L839.8,1116.5 L839.8,1118.1 L839.9,1119.8 L839.9,1121.4 L840.0,1122.9 L840.1,1124.4 L840.1,1125.9 L840.2,1127.3 L840.2,1128.7 L840.3,1130.0 L840.4,1132.7 L840.6,1135.3 L840.7,1137.9 L840.8,1140.3 L840.9,1142.7 L841.1,1145.0 L841.2,1147.3 L841.3,1149.5 L841.4,1151.6 L841.5,1153.3 M844.7,1199.0 L844.8,1201.0 L845.0,1203.0 L845.1,1205.0 L845.2,1207.0 L845.4,1209.0 L845.5,1211.0 L845.6,1213.0 L845.7,1215.0 L845.9,1217.0 L846.0,1219.0 L846.1,1221.0 L846.3,1222.9 L846.4,1224.9 L846.5,1226.9 L846.7,1228.9 L846.8,1230.9 L846.9,1232.8 L847.0,1234.8 L847.2,1236.8 L847.3,1238.7 L847.4,1240.7 L847.6,1242.6 L847.7,1244.0 M850.7,1289.0 L851.0,1291.8 L851.3,1294.4 L851.6,1296.8 L851.9,1299.2 L852.2,1301.4 L852.5,1303.5 L852.8,1305.6 L853.1,1307.5 L853.4,1309.4 L853.7,1311.2 L854.0,1312.9 L854.3,1314.6 L854.6,1316.3 L854.9,1317.9 L855.2,1319.5 L855.5,1321.1 L855.8,1322.8 L856.1,1324.4 L856.4,1326.0 L856.7,1327.7 L857.0,1329.5 L857.3,1331.2 L857.6,1332.9 M866.5,1366.0 L867.2,1364.7 L867.9,1363.2 L868.5,1361.6 L869.2,1359.9 L869.9,1358.1 L870.6,1356.3 L871.2,1354.3 L871.9,1352.4 L872.6,1350.3 L873.3,1348.3 L874.0,1346.2 L874.6,1344.1 L875.3,1342.0 L876.0,1339.9 L876.7,1337.8 L877.3,1335.8 L878.0,1333.8 L878.7,1331.9 L879.4,1330.0 L880.0,1328.2 L880.7,1326.6 L881.4,1325.0 L881.4,1325.0 M898.7,1331.6 L899.0,1332.6 L899.3,1333.8 L899.5,1335.1 L899.8,1336.6 L900.1,1338.2 L900.4,1339.9 L900.7,1341.7 L901.0,1343.6 L901.2,1345.5 L901.5,1347.6 L901.8,1349.7 L902.1,1351.9 L902.4,1354.1 L902.6,1356.4 L902.9,1358.7 L903.2,1361.0 L903.5,1363.4 L903.8,1365.7 L904.1,1368.1 L904.3,1370.4 L904.6,1372.7 L904.9,1375.0 L904.9,1375.0 M909.8,1420.6 L910.0,1422.3 L910.1,1424.1 L910.3,1425.9 L910.4,1427.7 L910.6,1429.5 L910.8,1431.4 L910.9,1433.3 L911.1,1435.2 L911.2,1437.1 L911.4,1439.1 L911.6,1441.0 L911.7,1443.0 L911.9,1445.0 L912.1,1447.1 L912.2,1449.2 L912.4,1451.2 L912.5,1453.3 L912.7,1455.5 L912.9,1457.6 L913.0,1459.8 L913.2,1462.0 L913.3,1464.2 L913.5,1466.4 L913.5,1467.0 M916.5,1513.4 L916.6,1515.4 L916.8,1517.4 L916.9,1519.4 L917.1,1521.3 L917.2,1523.2 L917.3,1525.1 L917.5,1526.9 L917.6,1528.8 L917.8,1530.6 L917.9,1532.4 L918.0,1534.3 L918.2,1536.1 L918.3,1537.9 L918.4,1539.8 L918.6,1541.7 L918.7,1543.6 L918.9,1545.5 L919.0,1547.5 L919.1,1549.5 L919.3,1551.5 L919.4,1553.6 L919.6,1555.8 L919.7,1558.0 L919.8,1559.1 M922.2,1604.8 L922.3,1607.1 L922.5,1609.4 L922.6,1611.6 L922.8,1613.9 L922.9,1616.1 L923.1,1618.3 L923.2,1620.5 L923.4,1622.6 L923.5,1624.7 L923.7,1626.8 L923.8,1628.9 L923.9,1630.9 L924.1,1632.8 L924.2,1634.7 L924.4,1636.6 L924.5,1638.4 L924.7,1640.2 L924.8,1641.8 L925.0,1643.5 L925.1,1645.1 L925.3,1646.6 L925.4,1648.0 L925.6,1650.3 M932.1,1695.4 L932.4,1697.4 L932.7,1699.4 L933.0,1701.4 L933.3,1703.3 L933.6,1705.2 L934.0,1707.1 L934.3,1709.0 L934.6,1710.9 L934.9,1712.7 L935.2,1714.6 L935.5,1716.4 L935.8,1718.2 L936.1,1720.1 L936.4,1721.9 L936.7,1723.7 L937.0,1725.6 L937.3,1727.5 L937.6,1729.3 L938.0,1731.2 L938.3,1733.1 L938.6,1735.1 L938.9,1737.0 L939.2,1739.0 L939.3,1739.9 M945.7,1784.4 L946.6,1786.8 L947.6,1788.8 L948.5,1790.7 L949.4,1792.2 L950.3,1793.6 L951.2,1794.8 L952.2,1795.8 L953.1,1796.7 L954.8,1798.2 L956.4,1799.7 L958.0,1800.9 L959.7,1802.0 L961.4,1802.6 L963.0,1802.9 L965.0,1802.9 L967.0,1802.9 L968.9,1802.9 L970.9,1803.0 L972.9,1803.0 L974.9,1803.0 L976.9,1803.0 L978.8,1803.0 L980.8,1803.0 L982.7,1803.0 M1028.7,1803.0 L1030.7,1803.0 L1032.7,1803.0 L1034.7,1803.0 L1036.7,1803.0 L1038.7,1803.0 L1040.7,1803.0 L1042.7,1803.0 L1044.7,1803.0 L1046.7,1803.0 L1048.7,1803.0 L1050.7,1803.0 L1052.7,1803.0 L1054.7,1803.0 L1056.7,1803.0 L1058.7,1803.0 L1060.7,1803.0 L1062.7,1803.0 L1064.7,1803.0 L1066.7,1803.0 L1068.7,1803.0 L1070.7,1803.0 L1072.6,1803.0 L1074.6,1803.0 L1074.6,1803.0 M1120.6,1803.0 L1122.6,1803.0 L1124.6,1803.0 L1126.6,1803.0 L1128.6,1803.0 L1130.6,1803.0 L1132.5,1803.0 L1134.5,1803.0 L1136.5,1803.0 L1138.5,1803.0 L1140.5,1803.0 L1142.5,1803.0 L1144.5,1803.0 L1146.5,1803.0 L1148.5,1803.0 L1150.5,1803.0 L1152.5,1803.0 L1154.5,1803.0 L1156.5,1803.0 L1158.5,1803.0 L1160.5,1803.0 L1162.5,1803.0 L1164.5,1803.0 L1166.5,1803.0 L1166.5,1803.0 M1212.4,1803.0 L1214.4,1803.0 L1216.4,1803.0 L1218.4,1803.0 L1220.4,1803.0 L1222.4,1803.0 L1224.4,1803.0 L1226.4,1803.0 L1228.4,1803.0 L1230.4,1803.0 L1232.4,1803.0 L1234.4,1803.0 L1236.4,1803.0 L1238.4,1803.0 L1240.4,1803.0 L1242.4,1803.0 L1244.4,1803.0 L1246.4,1803.0 L1248.4,1803.0 L1250.4,1803.0 L1252.3,1803.0 L1254.3,1803.0 L1256.3,1803.0 L1257.3,1803.0 M1302.3,1803.0 L1304.3,1803.0 L1306.3,1803.0 L1308.3,1803.0 L1310.3,1803.0 L1312.2,1803.0 L1314.2,1803.0 L1316.2,1803.0 L1318.2,1803.0 L1320.2,1803.0 L1322.2,1803.0 L1324.2,1803.0 L1326.2,1803.0 L1328.2,1803.0 L1330.2,1803.0 L1332.2,1803.0 L1334.2,1803.0 L1336.2,1803.0 L1338.2,1803.0 L1340.2,1803.0 L1340.2,1801.0 L1340.3,1799.0 L1340.3,1796.9 L1340.3,1794.8 L1340.3,1794.7 M1341.0,1748.4 L1341.1,1746.4 L1341.1,1744.4 L1341.1,1742.5 L1341.2,1740.7 L1341.2,1738.9 L1341.2,1737.2 L1341.3,1735.5 L1341.3,1733.9 L1341.3,1732.4 L1341.4,1731.0 L1341.4,1729.6 L1341.4,1728.3 L1341.5,1727.1 L1341.5,1726.0 L1341.6,1722.8 L1341.7,1719.6 L1341.8,1716.7 L1341.9,1713.9 L1342.0,1711.2 L1342.1,1708.6 L1342.2,1706.1 L1342.3,1703.8 L1342.4,1702.9 M1345.3,1657.5 L1345.4,1655.7 L1345.5,1653.8 L1345.6,1651.8 L1345.7,1649.7 L1345.8,1647.5 L1345.9,1645.2 L1346.0,1642.8 L1346.1,1640.4 L1346.2,1637.7 L1346.3,1635.0 L1346.3,1633.7 L1346.4,1632.4 L1346.4,1631.0 L1346.5,1629.7 L1346.5,1628.3 L1346.6,1626.9 L1346.6,1625.5 L1346.7,1624.1 L1346.7,1622.6 L1346.8,1621.2 L1346.8,1619.7 L1346.9,1618.2 L1346.9,1616.7 L1347.0,1615.1 L1347.0,1613.5 L1347.1,1611.9 L1347.1,1611.4 M1348.2,1565.2 L1348.3,1562.6 L1348.3,1560.0 L1348.4,1557.3 L1348.4,1554.5 L1348.5,1551.7 L1348.5,1548.9 L1348.6,1546.0 L1348.6,1543.0 L1348.6,1541.8 L1348.6,1540.5 L1348.7,1539.2 L1348.7,1537.8 L1348.7,1536.4 L1348.7,1534.9 L1348.7,1533.4 L1348.8,1531.8 L1348.8,1530.1 L1348.8,1528.5 L1348.8,1526.7 L1348.8,1525.0 L1348.8,1523.2 L1348.9,1521.3 L1348.9,1520.0 M1349.3,1474.8 L1349.3,1472.6 L1349.3,1470.4 L1349.3,1468.2 L1349.4,1466.0 L1349.4,1463.8 L1349.4,1461.6 L1349.4,1459.5 L1349.4,1457.3 L1349.5,1455.2 L1349.5,1453.1 L1349.5,1451.0 L1349.5,1449.1 L1349.5,1447.2 L1349.6,1445.3 L1349.6,1443.3 L1349.6,1441.2 L1349.6,1439.2 L1349.6,1437.1 L1349.6,1434.9 L1349.7,1432.8 L1349.7,1430.6 L1349.7,1428.6 M1350.0,1382.3 L1350.1,1380.4 L1350.1,1378.5 L1350.1,1376.6 L1350.1,1374.8 L1350.1,1373.0 L1350.1,1371.3 L1350.2,1369.7 L1350.2,1368.1 L1350.2,1366.6 L1350.2,1365.2 L1350.2,1363.8 L1350.2,1362.5 L1350.3,1361.2 L1350.3,1360.1 L1350.3,1359.0 L1350.4,1355.8 L1350.4,1352.6 L1350.5,1349.6 L1350.5,1346.6 L1350.6,1343.8 L1350.6,1341.0 L1350.7,1338.4 L1350.7,1336.5 M1352.0,1290.7 L1352.1,1289.1 L1352.1,1287.6 L1352.2,1286.1 L1352.3,1284.5 L1352.3,1283.0 L1352.4,1281.4 L1352.4,1279.8 L1352.5,1278.2 L1352.5,1276.6 L1352.6,1274.9 L1352.6,1273.3 L1352.7,1271.5 L1352.7,1269.8 L1352.8,1268.0 L1352.9,1265.9 L1352.9,1263.8 L1353.0,1261.7 L1353.1,1259.6 L1353.1,1257.5 L1353.2,1255.4 L1353.2,1253.4 L1353.3,1251.3 L1353.4,1249.3 L1353.4,1247.2 L1353.5,1245.2 L1353.5,1244.6 M1355.0,1198.6 L1355.1,1196.7 L1355.2,1194.8 L1355.2,1192.9 L1355.3,1191.1 L1355.4,1189.2 L1355.4,1187.3 L1355.5,1185.4 L1355.5,1183.5 L1355.6,1181.6 L1355.7,1179.8 L1355.7,1177.9 L1355.8,1176.0 L1355.9,1173.9 L1355.9,1171.9 L1356.0,1169.9 L1356.1,1167.8 L1356.1,1165.8 L1356.2,1163.7 L1356.3,1161.7 L1356.4,1159.7 L1356.4,1157.6 L1356.5,1155.6 L1356.6,1153.6 L1356.6,1152.4 M1358.2,1106.1 L1358.3,1104.2 L1358.4,1102.3 L1358.4,1100.3 L1358.5,1098.4 L1358.6,1096.5 L1358.7,1094.6 L1358.7,1092.6 L1358.8,1090.7 L1358.9,1088.8 L1358.9,1086.9 L1359.0,1085.0 L1359.1,1083.0 L1359.1,1080.9 L1359.2,1078.9 L1359.3,1076.9 L1359.4,1074.8 L1359.4,1072.8 L1359.5,1070.8 L1359.6,1068.7 L1359.7,1066.7 L1359.7,1064.7 L1359.8,1062.7 L1359.9,1060.7 M1361.6,1015.4 L1361.7,1013.4 L1361.8,1011.6 L1361.8,1009.7 L1361.9,1007.8 L1362.0,1005.9 L1362.1,1004.0 L1362.1,1002.2 L1362.2,1000.3 L1362.3,998.5 L1362.4,996.6 L1362.4,994.8 L1362.5,993.0 L1362.6,990.8 L1362.7,988.6 L1362.8,986.5 L1362.9,984.3 L1362.9,982.1 L1363.0,979.8 L1363.1,977.6 L1363.2,975.4 L1363.3,973.2 L1363.4,971.0 L1363.4,969.5 M1365.3,923.7 L1365.3,921.4 L1365.4,919.2 L1365.5,917.0 L1365.6,914.8 L1365.7,912.6 L1365.8,910.4 L1365.9,908.2 L1366.0,906.0 L1366.1,903.8 L1366.1,901.6 L1366.2,899.4 L1366.3,897.3 L1366.4,895.1 L1366.5,893.0 L1366.6,890.9 L1366.7,888.8 L1366.8,886.7 L1366.9,884.6 L1367.0,882.5 L1367.0,880.4 L1367.1,878.4 L1367.1,878.1 M1369.4,832.5 L1369.4,830.9 L1369.5,829.4 L1369.6,827.9 L1369.7,826.4 L1369.8,824.9 L1369.9,823.5 L1370.0,822.1 L1370.1,820.7 L1370.2,819.3 L1370.2,818.0 L1370.3,816.7 L1370.4,815.5 L1370.5,814.2 L1370.6,813.0 L1370.8,810.6 L1371.0,808.3 L1371.2,806.2 L1371.3,804.1 L1371.5,802.2 L1371.7,800.3 L1371.9,798.5 L1372.1,796.8 L1372.3,795.1 L1372.4,793.4 L1372.6,791.8 L1372.8,790.1 L1373.0,788.4 L1373.2,786.7 L1373.2,786.3 M1376.7,740.0 L1376.9,737.6 L1377.1,735.2 L1377.4,732.9 L1377.6,730.7 L1377.8,728.5 L1378.0,726.4 L1378.2,724.3 L1378.4,722.3 L1378.7,720.3 L1378.9,718.4 L1379.1,716.5 L1379.3,714.6 L1379.5,712.8 L1379.7,711.0 L1380.0,709.3 L1380.2,707.5 L1380.4,705.8 L1380.6,704.1 L1380.8,702.5 L1381.0,700.8 L1381.3,699.2 L1381.5,697.6 L1381.7,696.0 L1381.9,694.9 M1389.1,650.0 L1389.5,647.7 L1390.0,645.4 L1390.4,643.2 L1390.9,641.0 L1391.3,638.7 L1391.8,636.6 L1392.2,634.4 L1392.7,632.3 L1393.1,630.2 L1393.6,628.2 L1394.0,626.2 L1394.5,624.2 L1395.0,622.3 L1395.4,620.5 L1395.8,618.7 L1396.3,616.9 L1396.8,615.3 L1397.2,613.7 L1397.7,612.1 L1398.1,610.7 L1398.5,609.3 L1399.0,608.0 L1399.9,605.5 L1400.0,605.2 M1421.2,564.7 L1422.8,563.4 L1424.4,562.1 L1425.9,561.0 L1427.5,559.9 L1429.1,558.9 L1430.7,558.0 L1432.3,557.2 L1433.9,556.4 L1435.4,555.8 L1437.0,555.3 L1438.6,554.8 L1440.5,554.3 L1442.5,553.8 L1444.4,553.4 L1446.4,553.0 L1448.3,552.6 L1450.3,552.3 L1452.2,552.0 L1454.2,551.7 L1456.2,551.5 L1458.1,551.3 L1460.0,551.1 L1462.0,551.0 L1463.5,550.9 M1509.0,549.8 L1511.0,549.8 L1513.0,549.8 L1515.0,549.8 L1517.0,549.8 L1519.0,549.8 L1521.0,549.8 L1523.0,549.8 L1525.0,549.8 L1527.0,549.8 L1529.0,549.8 L1531.0,549.8 L1533.0,549.8 L1535.0,549.8 L1537.0,549.8 L1539.0,549.8 L1541.0,549.8 L1543.0,549.8 L1545.0,549.8 L1547.0,549.8 L1549.0,549.8 L1551.0,549.8 L1553.0,549.8 L1554.8,549.8 M1600.6,549.8 L1600.9,549.8 L1602.9,549.8 L1604.9,549.8 L1606.9,549.8 L1608.9,549.8 L1610.9,549.8 L1612.9,549.8 L1614.9,549.8 L1616.9,549.8 L1618.9,549.8 L1620.9,549.8 L1622.9,549.8 L1624.9,549.8 L1626.9,549.8 L1628.9,549.8 L1630.9,549.8 L1632.9,549.8 L1634.9,549.8 L1636.9,549.8 L1638.9,549.8 L1640.9,549.8 L1642.9,549.8 L1644.9,549.8 L1646.4,549.8 M1692.2,549.8 L1692.8,549.8 L1694.8,549.8 L1696.8,549.8 L1698.8,549.8 L1700.8,549.8 L1702.8,549.8 L1704.8,549.8 L1706.8,549.8 L1708.8,549.8 L1710.8,549.8 L1712.8,549.8 L1714.8,549.8 L1716.8,549.8 L1718.8,549.8 L1720.8,549.8 L1722.8,549.8 L1724.8,549.8 L1726.8,549.8 L1728.8,549.8 L1730.8,549.8 L1732.8,549.8 L1734.8,549.8 L1736.8,549.8 L1738.0,549.8 M1783.8,549.8 L1784.8,549.8 L1786.8,549.8 L1788.8,549.8 L1790.8,549.8 L1792.8,549.8 L1794.8,549.8 L1796.8,549.8 L1798.8,549.8 L1800.8,549.8 L1802.8,549.8 L1804.8,549.8 L1806.8,549.8 L1808.7,549.8 L1810.7,549.8 L1812.7,549.8 L1814.7,549.8 L1816.7,549.8 L1818.7,549.8 L1820.7,549.8 L1822.7,549.8 L1824.7,549.8 L1826.7,549.8 L1828.7,549.8 L1829.6,549.8 M1875.4,549.8 L1876.7,549.8 L1878.7,549.8 L1880.7,549.8 L1882.7,549.8 L1884.7,549.8 L1886.7,549.8 L1888.7,549.8 L1890.7,549.8 L1892.7,549.8 L1894.7,549.8 L1896.7,549.8 L1898.7,549.8 L1900.7,549.8 L1902.7,549.8 L1904.7,549.8 L1906.7,549.8 L1908.7,549.8 L1910.7,549.8 L1912.7,549.8 L1914.7,549.8 L1916.7,549.8 L1918.7,549.8 L1920.7,549.8 L1921.2,549.8 M1967.0,549.8 L1968.6,549.8 L1970.6,549.8 L1972.6,549.8 L1974.6,549.8 L1976.6,549.8 L1978.6,549.8 L1980.6,549.8 L1982.6,549.8 L1984.6,549.8 L1986.6,549.8 L1988.6,549.8 L1990.6,549.8 L1992.6,549.8 L1994.6,549.8 L1996.6,549.8 L1998.6,549.8 L2000.6,549.8 L2002.6,549.8 L2004.6,549.8 L2006.6,549.8 L2008.6,549.8 L2010.6,549.8 L2012.6,549.8 L2012.8,549.8 M2058.6,549.8 L2060.5,549.8 L2062.5,549.8 L2064.5,549.8 L2066.5,549.8 L2068.5,549.8 L2070.5,549.8 L2072.5,549.8 L2074.5,549.8 L2076.5,549.8 L2078.5,549.8 L2080.5,549.8 L2082.5,549.8 L2084.5,549.8 L2086.5,549.8 L2088.5,549.8 L2090.5,549.8 L2092.5,549.8 L2094.5,549.8 L2096.5,549.8 L2098.5,549.8 L2100.5,549.8 L2102.5,549.8 L2104.4,549.8" fill="none" stroke="#0000ff" stroke-width="12.1" stroke-linejoin="round" stroke-linecap="butt"/>
<path d="M286.2,583.2 L288.5,581.5 L290.8,579.9 L293.1,578.2 L295.4,576.6 L297.7,574.8 L300.0,572.9 L302.3,570.8 L304.1,568.9 L305.8,566.6 L307.6,564.1 L309.3,561.6 L311.1,559.1 L312.8,556.8 L314.6,554.8 L316.5,553.1 L318.3,551.5 L320.1,550.1 L322.0,548.6 L323.9,550.0 L325.8,551.4 L327.6,552.9 L329.5,554.8 L330.7,556.4 L331.9,558.4 L333.2,560.7 L334.4,563.2 L335.6,565.9 L336.4,567.9 L337.3,570.1 L338.1,572.5 L338.9,575.1 L339.8,577.8 L340.6,580.7 L341.2,583.0 L341.8,585.4 L342.5,588.0 L343.1,590.7 L343.7,593.5 L344.3,596.4 L344.9,599.3 L345.6,602.2 L346.2,605.1 L346.8,607.9 L347.4,610.8 L348.0,613.7 L348.6,616.8 L349.3,619.8 L349.9,622.9 L350.5,626.0 L351.1,629.1 L351.7,632.0 L352.4,634.9 L353.0,637.6 L353.6,640.2 L354.2,642.6 L355.1,645.9 L356.0,649.0 L356.9,652.0 L357.8,654.9 L358.7,657.7 L359.6,660.3 L360.5,662.9 L361.4,665.3 L362.3,667.7 L363.2,670.0 L364.1,672.2 L365.3,675.1 L366.6,678.0 L367.8,680.7 L369.1,683.3 L370.3,685.7 L371.5,688.0 L372.8,690.1 L374.0,692.0 L376.0,694.8 L378.0,697.6 L379.9,700.0 L381.9,701.9 L383.9,703.1 L386.3,704.1 L388.8,704.9 L391.2,705.4 L393.7,705.6 L396.2,705.1 L398.6,703.9 L401.1,702.3 L403.6,700.7 L405.7,699.2 L407.9,697.6 L410.0,695.7 L412.1,693.7 L414.2,691.6 L416.4,689.4 L418.5,687.1 L420.1,685.3 L421.8,683.5 L423.4,681.5 L425.1,679.5 L426.7,677.4 L428.4,675.1 L430.0,672.7 L431.7,670.1 L433.3,667.3 L434.4,665.2 L435.5,663.0 L436.6,660.5 L437.7,657.8 L438.8,655.0 L439.9,652.1 L441.0,649.0 L442.1,645.9 L443.2,642.6 L444.0,640.3 L444.7,637.8 L445.5,635.2 L446.2,632.6 L447.0,629.8 L447.8,627.0 L448.5,624.1 L449.3,621.1 L450.1,618.0 L450.8,615.0 L451.6,611.8 L452.3,608.7 L453.1,605.5 L453.7,603.0 L454.3,600.5 L454.8,597.9 L455.4,595.2 L456.0,592.5 L456.6,589.7 L457.2,586.9 L457.8,584.1 L458.3,581.3 L458.9,578.4 L459.5,575.5 L460.1,572.7 L460.7,569.8 L461.3,566.9 L461.8,564.1 L462.4,561.3 L463.0,558.5 L463.6,555.7 L464.2,552.9 L464.7,550.0 L465.3,547.1 L465.9,544.2 L466.5,541.3 L467.1,538.4 L467.7,535.5 L468.2,532.7 L468.8,529.8 L469.4,527.0 L470.0,524.3 L470.6,521.6 L471.2,518.9 L471.7,516.4 L472.3,513.9 L472.9,511.5 L473.7,508.2 L474.5,504.9 L475.4,501.6 L476.2,498.3 L477.0,495.2 L477.9,492.1 L478.7,489.1 L479.5,486.3 L480.3,483.7 L481.1,481.2 L482.0,478.9 L482.8,476.9 L484.2,473.6 L485.6,470.5 L487.0,467.5 L488.5,464.8 L489.9,462.6 L491.3,460.8 L492.7,459.6 L495.2,458.2 L497.6,457.0 L500.1,456.2 L502.6,455.9 L505.5,456.2 L508.3,457.1 L511.2,458.3 L512.4,459.3 L513.7,461.0 L514.9,463.1 L516.2,465.7 L517.4,468.6 L518.7,471.5 L519.9,474.4 L520.8,476.5 L521.7,478.7 L522.6,481.0 L523.5,483.4 L524.4,485.9 L525.3,488.6 L526.2,491.4 L527.1,494.3 L528.0,497.4 L528.9,500.7 L529.8,504.1 L530.3,506.2 L530.9,508.5 L531.4,511.0 L531.9,513.6 L532.4,516.3 L533.0,519.1 L533.5,522.0 L534.0,524.9 L534.6,528.0 L535.1,531.0 L535.6,534.2 L536.1,537.3 L536.7,540.5 L537.2,543.6 L537.6,546.2 L538.1,548.9 L538.5,551.7 L538.9,554.5 L539.4,557.3 L539.8,560.2 L540.2,563.2 L540.7,566.2 L541.1,569.2 L541.6,572.2 L542.0,575.2 L542.4,578.2 L542.9,581.2 L543.3,584.2 L543.7,587.2 L544.2,590.2 L544.6,593.1 L545.0,596.0 L545.5,598.9 L545.9,601.8 L546.3,604.7 L546.8,607.7 L547.2,610.6 L547.6,613.5 L548.1,616.4 L548.5,619.3 L549.0,622.2 L549.4,625.1 L549.8,628.0 L550.3,631.0 L550.7,633.9 L551.1,636.8 L551.6,639.7 L552.0,642.6 L552.4,645.5 L552.9,648.5 L553.3,651.4 L553.7,654.4 L554.2,657.4 L554.6,660.4 L555.0,663.3 L555.5,666.3 L555.9,669.3 L556.4,672.2 L556.8,675.2 L557.2,678.1 L557.7,680.9 L558.1,683.8 L558.5,686.6 L559.0,689.3 L559.4,692.0 L559.9,695.0 L560.4,698.0 L560.9,701.0 L561.4,704.0 L561.9,706.9 L562.4,709.8 L562.9,712.7 L563.3,715.6 L563.8,718.4 L564.3,721.1 L564.8,723.8 L565.3,726.5 L565.8,729.0 L566.3,731.6 L566.8,734.0 L567.4,737.0 L568.0,740.0 L568.7,742.9 L569.3,745.8 L569.9,748.6 L570.5,751.4 L571.2,754.0 L571.8,756.6 L572.4,759.2 L573.0,761.6 L573.7,763.9 L574.3,766.2 L575.2,769.2 L576.0,771.9 L576.9,774.6 L577.8,777.1 L578.7,779.6 L579.5,782.1 L580.4,784.7 L582.3,785.4 L584.2,786.0 L586.1,784.3 L587.9,782.8 L589.8,781.0 L591.6,778.6 L592.4,777.1 L593.2,775.1 L594.1,772.7 L594.9,769.9 L595.7,766.9 L596.5,763.7 L597.4,760.4 L598.2,757.1 L599.0,753.8 L599.6,751.4 L600.2,748.9 L600.7,746.3 L601.3,743.6 L601.9,740.8 L602.5,737.9 L603.1,734.9 L603.7,731.9 L604.2,728.8 L604.8,725.8 L605.4,722.7 L606.0,719.6 L606.6,716.5 L607.2,713.4 L607.7,710.3 L608.3,707.3 L608.9,704.4 L609.5,701.5 L610.1,698.6 L610.6,695.7 L611.2,692.8 L611.8,689.8 L612.4,686.9 L613.0,684.0 L613.6,681.1 L614.1,678.2 L614.7,675.3 L615.3,672.4 L615.9,669.5 L616.5,666.5 L617.1,663.6 L617.6,660.7 L618.2,657.8 L618.8,654.9 L619.4,652.0 L620.0,649.0 L620.5,646.0 L621.1,643.0 L621.7,639.9 L622.3,636.9 L622.9,633.9 L623.5,630.8 L624.0,627.8 L624.6,624.8 L625.2,621.9 L625.8,619.0 L626.4,616.2 L627.0,613.4 L627.5,610.7 L628.1,608.0 L628.7,605.5 L629.5,602.3 L630.2,599.1 L631.0,596.1 L631.7,593.0 L632.5,590.1 L633.3,587.2 L634.0,584.4 L634.8,581.6 L635.6,578.9 L636.3,576.2 L637.1,573.6 L637.8,571.0 L638.6,568.4 L639.5,565.4 L640.4,562.4 L641.3,559.4 L642.2,556.5 L643.1,553.6 L643.9,550.8 L644.8,548.1 L645.7,545.5 L646.6,543.0 L647.5,540.8 L648.4,538.7 L649.8,535.6 L651.2,532.6 L652.6,529.7 L654.1,527.1 L655.5,524.8 L656.9,522.9 L658.3,521.4 L660.5,519.8 L662.6,518.6 L664.8,517.5 L667.0,516.4 L669.2,517.8 L671.4,519.0 L673.7,520.3 L675.9,521.9 L678.1,523.9 L679.3,525.5 L680.6,527.5 L681.8,529.9 L683.0,532.7 L684.3,535.6 L685.5,538.7 L686.3,540.9 L687.1,543.3 L688.0,546.0 L688.8,548.8 L689.6,551.7 L690.5,554.8 L691.3,557.9 L692.1,561.0 L692.9,564.2 L693.8,567.3 L694.6,570.4 L695.4,573.3 L696.2,576.2 L697.0,579.2 L697.9,582.2 L698.7,585.3 L699.5,588.3 L700.3,591.3 L701.2,594.3 L702.0,597.2 L702.8,600.1 L703.6,602.8 L704.5,605.4 L705.3,607.9 L706.4,611.1 L707.5,614.2 L708.6,617.2 L709.7,620.1 L710.8,622.8 L711.9,625.5 L713.0,628.0 L714.1,630.4 L715.2,632.7 L716.7,635.6 L718.2,638.5 L719.6,641.2 L721.1,643.4 L722.6,645.0 L724.7,646.5 L726.7,647.6 L728.8,648.7 L730.5,647.1 L732.3,645.6 L734.0,644.0 L735.8,642.2 L737.5,640.1 L738.6,638.4 L739.7,636.3 L740.8,633.9 L741.9,631.3 L743.0,628.5 L744.1,625.7 L745.2,622.9 L746.3,620.3 L747.4,617.8 L748.6,615.2 L749.9,612.6 L751.1,610.1 L752.3,607.6 L753.6,605.1 L754.8,602.7 L756.1,600.3 L757.3,598.0 L758.7,595.5 L760.1,593.0 L761.5,590.7 L762.9,588.3 L764.3,585.9 L765.7,583.4 L767.1,580.7 L768.2,578.1 L769.3,575.2 L770.4,572.6 L771.5,570.8 L774.0,568.4 L776.4,566.6 L778.9,565.9 L781.4,565.8 L783.9,565.7 L786.4,565.6 L788.9,565.6 L791.4,565.6 L793.5,566.2 L795.7,567.6 L797.8,569.4 L800.0,571.3 L802.1,572.8 L804.3,573.5 L807.3,573.7 L810.2,573.9 L813.2,574.0 L815.4,572.5 L817.5,571.0 L817.9,568.0 L818.2,565.1 L818.5,562.1 L818.9,559.1 L819.2,556.2 L819.6,553.2 L820.0,550.2 L820.3,547.3 L820.6,544.3 L821.0,541.4 L821.4,538.4 L821.7,535.4 L822.0,532.5 L822.4,529.5 L822.8,526.5 L823.1,523.6 L823.4,520.6 L823.8,517.6 L824.1,514.7 L824.5,511.7 L824.8,508.8 L825.2,505.8 L825.5,502.8 L825.9,499.9 L826.2,496.9 L826.6,493.9 L826.9,491.0 L827.3,488.0 L827.4,490.8 L827.5,493.7 L827.6,496.6 L827.7,499.4 L827.8,502.3 L827.9,505.2 L828.0,508.1 L828.1,510.9 L828.1,513.8 L828.2,516.7 L828.3,519.5 L828.4,522.4 L828.5,525.2 L828.6,528.0 L828.7,530.8 L828.8,533.5 L828.9,536.3 L829.0,539.0 L829.1,542.0 L829.2,544.9 L829.3,547.7 L829.4,550.5 L829.5,553.2 L829.6,556.0 L829.8,558.7 L829.9,561.4 L830.0,564.3 L830.1,567.2 L830.2,570.2 L830.3,573.3 L830.4,576.6 L830.5,580.0 L830.6,582.3 L830.6,584.8 L830.7,587.4 L830.8,590.1 L830.8,592.9 L830.9,595.8 L831.0,598.7 L831.1,601.8 L831.1,604.9 L831.2,608.0 L831.3,611.2 L831.3,614.4 L831.4,617.7 L831.5,620.9 L831.5,624.2 L831.6,627.5 L831.7,630.7 L831.7,633.9 L831.8,637.1 L831.9,640.3 L831.9,643.3 L832.0,646.4 L832.1,649.3 L832.2,652.2 L832.2,655.0 L832.3,657.7 L832.4,660.2 L832.4,662.7 L832.5,665.0 L832.6,668.7 L832.7,672.3 L832.8,675.8 L833.0,679.2 L833.1,682.5 L833.2,685.7 L833.3,688.9 L833.4,692.0 L833.5,695.0 L833.6,698.0 L833.8,700.9 L833.9,703.7 L834.0,706.5 L834.1,709.3 L834.2,712.0 L834.3,714.7 L834.5,717.4 L834.6,720.1 L834.7,722.7 L834.8,725.3 L834.9,728.0 L835.0,730.6 L835.1,733.2 L835.3,735.9 L835.4,738.5 L835.5,741.2 L835.6,743.9 L835.7,746.7 L835.8,749.4 L835.9,752.2 L836.1,755.1 L836.2,758.0 L836.3,761.0 L836.4,764.0 L836.5,766.9 L836.6,769.8 L836.7,772.7 L836.8,775.7 L836.9,778.8 L837.0,781.8 L837.1,784.9 L837.2,788.1 L837.4,791.2 L837.5,794.4 L837.6,797.6 L837.7,800.8 L837.8,804.0 L837.9,807.2 L838.0,810.4 L838.1,813.6 L838.2,816.8 L838.3,820.0 L838.4,823.1 L838.5,826.3 L838.6,829.4 L838.7,832.4 L838.8,835.5 L838.9,838.5 L839.0,841.4 L839.2,844.3 L839.3,847.1 L839.4,849.9 L839.5,852.6 L839.6,855.3 L839.7,857.8 L839.8,860.3 L839.9,862.8 L840.0,865.1 L840.2,868.7 L840.3,872.2 L840.5,875.6 L840.7,879.0 L840.8,882.4 L841.0,885.7 L841.2,889.0 L841.3,892.2 L841.5,895.3 L841.7,898.4 L841.8,901.4 L842.0,904.4 L842.1,907.4 L842.3,910.2 L842.5,913.0 L842.6,915.8 L842.8,918.5 L843.0,921.1 L843.1,923.7 L843.3,926.2 L843.5,928.7 L843.6,931.1 L843.8,933.4 L844.0,935.7 L844.1,937.9 L844.3,940.0 L844.6,943.3 L844.8,946.4 L845.1,949.2 L845.4,951.9 L845.7,954.5 L846.0,957.0 L846.2,959.4 L846.5,962.0 L846.8,964.6 L847.0,967.4 L847.3,970.4 L847.6,973.6 L847.8,975.9 L848.0,978.4 L848.2,980.9 L848.3,983.6 L848.5,986.3 L848.7,989.1 L848.9,992.1 L849.1,995.0 L849.3,998.0 L849.4,1001.1 L849.6,1004.2 L849.8,1007.4 L850.0,1010.6 L850.2,1013.8 L850.4,1017.0 L850.5,1020.2 L850.7,1023.4 L850.9,1026.6 L851.1,1029.7 L851.3,1032.9 L851.5,1036.0 L851.6,1039.0 L851.8,1042.0 L852.0,1044.9 L852.2,1047.8 L852.4,1050.9 L852.6,1053.9 L852.8,1056.9 L853.0,1059.8 L853.2,1062.7 L853.4,1065.6 L853.6,1068.4 L853.8,1071.2 L854.0,1074.0 L854.2,1076.8 L854.4,1079.6 L854.6,1082.4 L854.9,1085.2 L855.1,1088.0 L855.3,1090.9 L855.5,1093.7 L855.7,1096.6 L855.9,1099.6 L856.1,1102.6 L856.3,1105.7 L856.5,1108.8 L856.7,1112.0 L856.9,1115.2 L857.1,1118.6 L857.3,1122.0 L857.4,1124.6 L857.6,1127.3 L857.7,1130.2 L857.9,1133.1 L858.0,1136.2 L858.2,1139.3 L858.3,1142.5 L858.5,1145.7 L858.6,1149.0 L858.8,1152.2 L858.9,1155.5 L859.1,1158.7 L859.2,1161.9 L859.4,1165.0 L859.5,1168.0 L859.7,1171.0 L859.8,1173.8 L860.0,1176.5 L860.1,1179.1 L860.3,1181.6 L860.4,1183.8 L860.6,1187.4 L860.9,1190.9 L861.1,1194.4 L861.4,1197.8 L861.6,1201.1 L861.9,1204.2 L862.1,1207.3 L862.4,1210.2 L862.6,1213.0 L862.9,1215.7 L863.1,1218.1 L863.4,1220.4 L863.6,1222.4 L863.9,1224.3 L864.1,1225.9 L864.8,1229.8 L865.5,1233.1 L866.2,1235.9 L866.9,1238.4 L867.6,1240.7 L868.3,1243.1 L869.0,1245.6 L869.8,1248.5 L870.5,1251.4 L871.3,1254.2 L872.1,1257.0 L872.9,1259.7 L873.7,1262.5 L874.4,1265.2 L875.2,1268.0 L875.8,1265.3 L876.4,1262.8 L877.0,1260.4 L877.7,1257.9 L878.3,1255.3 L878.9,1252.5 L879.5,1249.3 L880.1,1245.6 L880.4,1243.7 L880.7,1241.7 L880.9,1239.4 L881.2,1237.0 L881.5,1234.4 L881.8,1231.7 L882.0,1228.9 L882.3,1225.9 L882.6,1222.8 L882.9,1219.7 L883.1,1216.4 L883.4,1213.1 L883.7,1209.8 L884.0,1206.4 L884.2,1203.0 L884.5,1199.6 L884.8,1196.2 L885.0,1193.7 L885.2,1191.1 L885.4,1188.4 L885.6,1185.7 L885.8,1182.8 L886.0,1179.9 L886.2,1177.0 L886.4,1174.0 L886.6,1170.9 L886.8,1167.8 L887.0,1164.7 L887.2,1161.6 L887.4,1158.5 L887.6,1155.3 L887.8,1152.1 L888.0,1149.0 L888.2,1145.8 L888.4,1142.7 L888.6,1139.6 L888.8,1136.6 L889.0,1133.5 L889.2,1130.6 L889.4,1127.6 L889.6,1124.8 L889.8,1122.0 L890.0,1118.8 L890.3,1115.7 L890.5,1112.7 L890.7,1109.7 L891.0,1106.7 L891.2,1103.8 L891.4,1100.9 L891.7,1098.0 L891.9,1095.2 L892.1,1092.4 L892.4,1089.6 L892.6,1086.7 L892.8,1083.9 L893.0,1081.1 L893.3,1078.2 L893.5,1075.4 L893.7,1072.5 L894.0,1069.6 L894.2,1066.6 L894.4,1063.6 L894.7,1060.6 L894.9,1057.5 L895.1,1054.3 L895.4,1051.1 L895.6,1047.8 L895.8,1045.0 L896.0,1042.1 L896.2,1039.0 L896.3,1035.8 L896.5,1032.4 L896.7,1029.0 L896.9,1025.6 L897.1,1022.1 L897.3,1018.6 L897.5,1015.2 L897.6,1011.8 L897.8,1008.5 L898.0,1005.3 L898.2,1002.3 L898.4,999.4 L898.6,996.7 L898.7,994.3 L898.9,992.1 L899.1,990.1 L899.3,988.5 L899.8,984.5 L900.4,981.1 L900.9,978.0 L901.5,975.3 L902.0,972.9 L902.5,970.6 L903.1,968.4 L903.6,966.2 L904.3,963.3 L905.0,960.7 L905.7,958.2 L906.5,955.9 L907.2,953.5 L907.9,951.2 L908.6,948.9 L909.4,946.1 L910.3,943.4 L911.1,940.7 L912.0,938.0 L912.8,935.3 L913.4,937.9 L914.1,940.4 L914.7,942.8 L915.3,945.3 L915.9,947.9 L916.6,950.8 L917.2,953.9 L917.6,956.2 L918.0,958.7 L918.4,961.3 L918.9,964.1 L919.3,967.1 L919.7,970.1 L920.1,973.3 L920.5,976.4 L920.9,979.7 L921.3,982.9 L921.7,986.1 L922.2,989.3 L922.6,992.4 L923.0,995.5 L923.4,998.4 L923.8,1001.4 L924.3,1004.5 L924.7,1007.5 L925.1,1010.6 L925.6,1013.6 L926.0,1016.7 L926.4,1019.7 L926.9,1022.7 L927.3,1025.7 L927.8,1028.6 L928.2,1031.5 L928.6,1034.4 L929.1,1037.2 L929.5,1039.9 L929.9,1042.6 L930.4,1045.3 L930.8,1047.8 L931.4,1051.1 L932.0,1054.3 L932.5,1057.4 L933.1,1060.5 L933.7,1063.5 L934.3,1066.4 L934.9,1069.3 L935.5,1072.1 L936.0,1074.9 L936.6,1077.7 L937.2,1080.4 L937.8,1083.2 L938.4,1086.0 L939.0,1088.8 L939.5,1091.6 L940.1,1094.4 L940.7,1097.3 L941.3,1100.2 L941.9,1103.1 L942.4,1106.0 L943.0,1108.9 L943.6,1111.8 L944.2,1114.7 L944.8,1117.6 L945.4,1120.5 L945.9,1123.5 L946.5,1126.4 L947.1,1129.3 L947.7,1132.2 L948.3,1135.1 L948.9,1138.0 L949.4,1140.9 L950.0,1143.8 L950.6,1146.7 L951.2,1149.6 L951.8,1152.5 L952.3,1155.5 L952.9,1158.4 L953.5,1161.4 L954.1,1164.3 L954.7,1167.2 L955.3,1170.2 L955.8,1173.1 L956.4,1176.1 L957.0,1179.0 L957.6,1181.9 L958.2,1184.8 L958.8,1187.7 L959.3,1190.5 L959.9,1193.4 L960.5,1196.2 L961.1,1199.2 L961.7,1202.2 L962.4,1205.2 L963.0,1208.2 L963.6,1211.2 L964.2,1214.2 L964.8,1217.1 L965.4,1220.0 L966.0,1222.8 L966.7,1225.6 L967.3,1228.2 L967.9,1230.8 L968.6,1233.8 L969.4,1236.9 L970.1,1239.8 L970.9,1242.7 L971.6,1245.5 L972.4,1248.2 L973.1,1250.9 L973.9,1253.4 L974.6,1255.8 L975.4,1258.0 L976.4,1260.8 L977.4,1263.4 L978.5,1265.8 L979.5,1268.2 L980.5,1270.5 L981.5,1272.8 L982.5,1275.1 L983.5,1277.3 L984.5,1279.6 L985.5,1281.8 L986.5,1284.0 L988.6,1282.7 L990.8,1281.3 L993.0,1280.0 L995.1,1279.0 L997.6,1277.9 L1000.1,1277.0 L1002.6,1276.6 L1005.5,1276.8 L1008.3,1277.2 L1011.2,1277.8 L1012.9,1278.7 L1014.7,1280.5 L1016.4,1282.7 L1018.2,1285.3 L1019.9,1287.7 L1021.4,1290.0 L1023.0,1292.7 L1024.5,1295.6 L1026.0,1298.6 L1027.6,1301.5 L1029.1,1304.2 L1030.7,1306.4 L1032.2,1308.1 L1034.7,1310.0 L1037.2,1311.5 L1039.7,1312.7 L1042.1,1313.9 L1044.6,1315.2 L1047.1,1316.8 L1049.1,1318.6 L1051.2,1320.7 L1053.2,1323.0 L1055.3,1325.2 L1057.4,1327.3 L1059.4,1329.1 L1061.9,1330.8 L1064.3,1332.3 L1066.8,1333.7 L1069.3,1335.0 L1071.8,1336.3 L1074.2,1337.6 L1076.7,1339.0 L1079.2,1340.4 L1081.7,1341.6 L1084.1,1343.2 L1086.6,1345.2 L1087.8,1346.7 L1089.1,1348.7 L1090.3,1351.2 L1091.5,1353.9 L1092.8,1356.9 L1094.0,1360.0 L1095.3,1363.2 L1096.5,1366.2 L1097.5,1368.7 L1098.5,1371.4 L1099.5,1374.3 L1100.5,1377.3 L1101.5,1380.4 L1102.4,1383.3 L1103.4,1386.2 L1104.4,1388.9 L1105.4,1391.3 L1106.4,1393.4 L1108.1,1396.5 L1109.7,1399.3 L1111.3,1402.0 L1113.0,1404.3 L1114.7,1406.4 L1116.3,1408.3 L1118.4,1410.4 L1120.4,1412.4 L1122.5,1414.2 L1124.6,1415.7 L1126.6,1417.1 L1128.7,1418.2 L1131.2,1419.2 L1133.6,1419.9 L1136.1,1420.6 L1138.6,1421.2 L1141.0,1422.0 L1143.5,1423.1 L1145.3,1424.3 L1147.0,1425.8 L1148.8,1427.8 L1150.6,1430.0 L1152.4,1432.5 L1154.1,1435.1 L1155.9,1437.9 L1157.0,1439.9 L1158.1,1442.2 L1159.2,1444.8 L1160.3,1447.5 L1161.4,1450.4 L1162.5,1453.1 L1163.6,1455.8 L1164.7,1458.2 L1165.8,1460.2 L1167.3,1462.6 L1168.8,1464.8 L1170.2,1466.8 L1171.7,1468.5 L1173.2,1470.1 L1175.2,1471.8 L1177.2,1473.1 L1179.1,1474.3 L1181.1,1475.7 L1183.1,1477.5 L1184.3,1479.0 L1185.6,1480.9 L1186.8,1483.1 L1188.0,1485.6 L1189.2,1488.3 L1190.5,1491.1 L1191.7,1493.9 L1192.9,1496.8 L1194.2,1499.5 L1195.4,1502.2 L1196.6,1504.8 L1197.9,1507.5 L1199.1,1510.3 L1200.4,1513.0 L1201.6,1515.8 L1202.8,1518.6 L1204.1,1521.3 L1205.3,1524.1 L1206.6,1526.8 L1207.8,1529.4 L1209.0,1532.0 L1210.3,1534.6 L1211.5,1537.2 L1212.8,1539.7 L1214.0,1542.3 L1215.2,1544.8 L1216.5,1547.2 L1217.7,1549.6 L1219.0,1552.0 L1220.2,1554.2 L1221.7,1556.9 L1223.3,1559.5 L1224.8,1562.0 L1226.3,1564.4 L1227.9,1566.8 L1229.4,1569.2 L1231.0,1571.5 L1232.5,1573.9 L1234.2,1576.3 L1235.8,1578.7 L1237.5,1580.9 L1239.1,1583.3 L1240.8,1585.9 L1242.4,1588.8 L1243.5,1591.0 L1244.6,1593.3 L1245.7,1595.9 L1246.8,1598.6 L1247.9,1601.4 L1249.0,1604.3 L1250.1,1607.3 L1251.2,1610.4 L1252.3,1613.5 L1253.1,1615.9 L1254.0,1618.3 L1254.8,1620.8 L1255.6,1623.4 L1256.4,1626.0 L1257.2,1628.7 L1258.1,1631.5 L1258.9,1634.2 L1259.7,1637.1 L1260.5,1639.9 L1261.4,1642.7 L1262.2,1645.6 L1263.0,1648.3 L1263.7,1651.1 L1264.5,1654.0 L1265.2,1657.0 L1266.0,1660.0 L1266.8,1663.0 L1267.5,1666.0 L1268.3,1669.0 L1269.1,1671.9 L1269.8,1674.8 L1270.6,1677.5 L1271.3,1680.2 L1272.1,1682.7 L1273.0,1685.6 L1274.0,1688.4 L1274.9,1691.1 L1275.9,1693.7 L1276.8,1696.2 L1277.8,1698.7 L1278.8,1701.2 L1279.7,1703.7 L1280.6,1706.4 L1281.6,1709.1 L1282.5,1711.8 L1283.3,1714.7 L1284.2,1717.8 L1285.1,1721.0 L1285.9,1724.1 L1286.8,1727.1 L1287.7,1729.9 L1288.6,1732.4 L1289.4,1734.6 L1290.3,1736.3 L1292.0,1738.9 L1293.7,1741.0 L1295.5,1742.8 L1297.2,1744.4 L1298.9,1746.2 L1301.0,1748.3 L1303.0,1750.3 L1305.1,1752.2 L1307.2,1754.2 L1309.2,1756.3 L1311.3,1758.6 L1313.0,1760.7 L1314.6,1763.1 L1316.2,1765.6 L1317.9,1768.3 L1319.5,1770.9 L1321.2,1773.4 L1322.7,1775.6 L1324.2,1777.8 L1325.6,1780.1 L1327.1,1782.3 L1328.6,1784.5 L1330.6,1783.1 L1332.7,1781.6 L1334.8,1780.2 L1336.8,1778.8 L1338.9,1777.3 L1340.9,1775.9 L1341.3,1773.0 L1341.7,1770.2 L1342.0,1767.5 L1342.4,1764.8 L1342.8,1762.0 L1343.2,1759.2 L1343.6,1756.3 L1343.9,1753.1 L1344.3,1749.8 L1344.7,1746.2 L1344.9,1744.0 L1345.1,1741.6 L1345.4,1739.1 L1345.6,1736.5 L1345.8,1733.7 L1346.0,1730.9 L1346.2,1727.9 L1346.4,1725.0 L1346.7,1721.9 L1346.9,1718.8 L1347.1,1715.6 L1347.3,1712.5 L1347.5,1709.3 L1347.7,1706.1 L1348.0,1702.9 L1348.2,1699.8 L1348.4,1696.7 L1348.6,1693.9 L1348.8,1691.1 L1349.0,1688.2 L1349.2,1685.4 L1349.4,1682.5 L1349.6,1679.5 L1349.8,1676.6 L1350.0,1673.6 L1350.2,1670.7 L1350.4,1667.7 L1350.6,1664.7 L1350.8,1661.7 L1350.9,1658.6 L1351.1,1655.6 L1351.3,1652.6 L1351.5,1649.6 L1351.7,1646.5 L1351.9,1643.5 L1352.1,1640.5 L1352.3,1637.5 L1352.5,1634.5 L1352.7,1631.5 L1352.9,1628.5 L1353.1,1625.5 L1353.3,1622.6 L1353.5,1619.6 L1353.7,1616.6 L1353.9,1613.6 L1354.1,1610.7 L1354.3,1607.7 L1354.5,1604.7 L1354.7,1601.8 L1354.9,1598.8 L1355.1,1595.8 L1355.3,1592.9 L1355.5,1589.9 L1355.7,1587.0 L1355.9,1584.0 L1356.1,1581.1 L1356.3,1578.1 L1356.5,1575.2 L1356.7,1572.2 L1356.9,1569.2 L1357.1,1566.3 L1357.3,1563.3 L1357.5,1560.3 L1357.7,1557.4 L1357.9,1554.4 L1358.1,1551.4 L1358.3,1548.4 L1358.5,1545.5 L1358.7,1542.5 L1358.9,1539.6 L1359.1,1536.6 L1359.3,1533.6 L1359.5,1530.7 L1359.7,1527.7 L1359.9,1524.7 L1360.1,1521.7 L1360.3,1518.8 L1360.5,1515.8 L1360.7,1512.8 L1360.8,1509.8 L1361.0,1506.8 L1361.2,1503.8 L1361.4,1500.9 L1361.6,1497.9 L1361.8,1494.9 L1362.0,1491.9 L1362.2,1489.0 L1362.4,1486.0 L1362.6,1483.0 L1362.8,1480.1 L1363.0,1477.1 L1363.2,1474.2 L1363.4,1471.2 L1363.6,1468.2 L1363.8,1465.3 L1364.0,1462.3 L1364.2,1459.4 L1364.4,1456.4 L1364.6,1453.5 L1364.8,1450.6 L1365.0,1447.6 L1365.2,1444.7 L1365.4,1441.8 L1365.6,1438.9 L1365.8,1435.9 L1366.0,1433.0 L1366.2,1430.1 L1366.4,1427.1 L1366.6,1424.2 L1366.8,1421.2 L1367.0,1418.2 L1367.2,1415.2 L1367.4,1412.2 L1367.6,1409.2 L1367.8,1406.1 L1368.0,1403.1 L1368.2,1400.0 L1368.4,1397.2 L1368.6,1394.3 L1368.7,1391.5 L1368.9,1388.6 L1369.1,1385.7 L1369.3,1382.8 L1369.5,1379.8 L1369.7,1376.9 L1369.8,1373.9 L1370.0,1371.0 L1370.2,1368.0 L1370.4,1365.0 L1370.6,1362.0 L1370.7,1359.1 L1370.9,1356.1 L1371.1,1353.1 L1371.3,1350.1 L1371.5,1347.1 L1371.6,1344.2 L1371.8,1341.2 L1372.0,1338.3 L1372.2,1335.3 L1372.4,1332.4 L1372.6,1329.5 L1372.7,1326.6 L1372.9,1323.7 L1373.1,1320.9 L1373.3,1317.9 L1373.5,1314.9 L1373.7,1311.9 L1373.9,1309.0 L1374.1,1306.1 L1374.3,1303.2 L1374.5,1300.3 L1374.7,1297.5 L1374.9,1294.7 L1375.1,1291.8 L1375.3,1289.0 L1375.5,1286.2 L1375.6,1283.3 L1375.8,1280.4 L1376.0,1277.6 L1376.2,1274.7 L1376.4,1271.7 L1376.6,1268.8 L1376.8,1265.8 L1377.0,1262.7 L1377.2,1259.6 L1377.4,1256.5 L1377.6,1253.3 L1377.8,1250.0 L1378.0,1246.7 L1378.1,1244.1 L1378.3,1241.5 L1378.4,1238.8 L1378.6,1236.1 L1378.7,1233.3 L1378.9,1230.5 L1379.0,1227.6 L1379.2,1224.7 L1379.3,1221.7 L1379.5,1218.7 L1379.6,1215.7 L1379.8,1212.7 L1379.9,1209.6 L1380.1,1206.5 L1380.2,1203.4 L1380.4,1200.4 L1380.5,1197.2 L1380.6,1194.1 L1380.8,1191.1 L1380.9,1188.0 L1381.1,1184.9 L1381.2,1181.8 L1381.4,1178.8 L1381.5,1175.8 L1381.7,1172.8 L1381.8,1169.8 L1382.0,1166.9 L1382.1,1164.0 L1382.3,1161.2 L1382.4,1158.4 L1382.6,1155.7 L1382.7,1153.0 L1382.9,1150.4 L1383.0,1147.8 L1383.2,1144.4 L1383.4,1141.1 L1383.6,1137.8 L1383.8,1134.5 L1384.0,1131.2 L1384.2,1128.0 L1384.4,1124.7 L1384.6,1121.5 L1384.8,1118.3 L1385.0,1115.2 L1385.2,1112.1 L1385.4,1109.0 L1385.5,1106.0 L1385.7,1103.0 L1385.9,1100.1 L1386.1,1097.2 L1386.3,1094.4 L1386.5,1091.6 L1386.7,1088.8 L1386.9,1086.1 L1387.1,1083.5 L1387.3,1080.9 L1387.5,1078.4 L1387.7,1076.0 L1387.9,1073.6 L1388.2,1070.1 L1388.5,1066.8 L1388.8,1063.5 L1389.1,1060.4 L1389.4,1057.3 L1389.7,1054.3 L1390.0,1051.4 L1390.3,1048.6 L1390.5,1045.8 L1390.8,1043.0 L1391.1,1040.3 L1391.4,1037.6 L1391.7,1034.9 L1392.0,1032.2 L1392.3,1029.6 L1392.6,1026.9 L1392.9,1024.2 L1393.2,1021.1 L1393.6,1018.0 L1393.9,1014.7 L1394.2,1011.4 L1394.5,1008.1 L1394.9,1004.8 L1395.2,1001.6 L1395.5,998.5 L1395.8,995.5 L1396.2,992.7 L1396.5,990.0 L1396.8,987.6 L1397.1,985.5 L1397.5,983.6 L1397.8,982.1 L1398.7,978.8 L1399.6,976.3 L1400.5,974.1 L1401.4,972.1 L1402.3,969.8 L1403.1,972.3 L1403.8,974.7 L1404.6,977.1 L1405.4,979.5 L1406.2,982.0 L1406.9,984.5 L1407.7,987.1 L1408.4,989.7 L1409.2,992.3 L1409.9,994.9 L1410.7,997.6 L1411.4,1000.3 L1412.1,1003.1 L1412.9,1005.9 L1413.6,1008.7 L1414.4,1011.5 L1415.1,1014.3 L1415.8,1017.0 L1416.5,1019.7 L1417.2,1022.4 L1417.9,1025.1 L1418.6,1027.8 L1419.3,1030.6 L1420.0,1033.3 L1420.8,1036.1 L1421.5,1039.0 L1422.2,1041.8 L1422.9,1044.8 L1423.6,1047.8 L1424.3,1050.8 L1425.0,1053.9 L1425.6,1056.5 L1426.2,1059.2 L1426.7,1062.0 L1427.3,1064.8 L1427.9,1067.6 L1428.5,1070.5 L1429.1,1073.5 L1429.7,1076.4 L1430.2,1079.4 L1430.8,1082.4 L1431.4,1085.4 L1432.0,1088.4 L1432.6,1091.4 L1433.2,1094.4 L1433.7,1097.4 L1434.3,1100.4 L1434.9,1103.3 L1435.5,1106.2 L1436.1,1109.1 L1436.6,1111.9 L1437.2,1114.7 L1437.8,1117.6 L1438.4,1120.4 L1439.0,1123.2 L1439.6,1126.0 L1440.1,1128.9 L1440.7,1131.7 L1441.3,1134.6 L1441.9,1137.5 L1442.5,1140.5 L1443.1,1143.5 L1443.6,1146.5 L1444.2,1149.6 L1444.8,1152.8 L1445.3,1155.4 L1445.7,1158.0 L1446.2,1160.8 L1446.7,1163.6 L1447.1,1166.4 L1447.6,1169.3 L1448.0,1172.2 L1448.5,1175.1 L1449.0,1178.0 L1449.4,1180.9 L1449.9,1183.7 L1450.3,1186.6 L1450.8,1189.3 L1451.3,1192.1 L1451.7,1194.7 L1452.2,1197.3 L1452.8,1200.4 L1453.3,1203.5 L1453.9,1206.6 L1454.5,1209.6 L1455.0,1212.6 L1455.6,1215.6 L1456.2,1218.5 L1456.8,1221.4 L1457.3,1224.1 L1457.9,1226.8 L1458.5,1229.5 L1459.0,1232.0 L1459.6,1234.4 L1460.4,1237.5 L1461.1,1240.5 L1461.9,1243.2 L1462.7,1245.9 L1463.5,1248.6 L1464.2,1251.2 L1465.0,1253.9 L1465.8,1256.6 L1468.0,1257.5 L1470.2,1258.4 L1472.3,1259.4 L1474.5,1260.3 L1475.2,1257.7 L1475.9,1255.1 L1476.6,1252.5 L1477.3,1249.9 L1478.0,1247.3 L1478.7,1244.6 L1479.4,1241.8 L1480.0,1239.3 L1480.6,1236.9 L1481.2,1234.4 L1481.9,1231.9 L1482.5,1229.4 L1483.1,1226.8 L1483.7,1224.2 L1484.3,1221.5 L1485.0,1218.7 L1485.6,1215.8 L1486.2,1212.8 L1486.8,1209.6 L1487.2,1207.3 L1487.7,1204.9 L1488.1,1202.4 L1488.6,1199.8 L1489.0,1197.2 L1489.4,1194.6 L1489.9,1191.8 L1490.3,1189.0 L1490.8,1186.1 L1491.2,1183.2 L1491.7,1180.1 L1492.1,1177.0 L1492.5,1173.8 L1493.0,1170.5 L1493.4,1167.2 L1493.9,1163.7 L1494.3,1160.2 L1494.6,1157.8 L1494.9,1155.3 L1495.2,1152.6 L1495.5,1149.9 L1495.7,1147.1 L1496.0,1144.1 L1496.3,1141.2 L1496.6,1138.1 L1496.9,1135.1 L1497.2,1132.0 L1497.5,1128.9 L1497.8,1125.8 L1498.0,1122.7 L1498.3,1119.6 L1498.6,1116.6 L1498.9,1113.6 L1499.2,1110.7 L1499.5,1107.8 L1499.8,1104.8 L1500.1,1101.9 L1500.4,1099.0 L1500.7,1096.1 L1501.0,1093.2 L1501.3,1090.3 L1501.6,1087.4 L1501.8,1084.6 L1502.1,1081.7 L1502.4,1078.8 L1502.7,1075.9 L1503.0,1073.0 L1503.3,1070.1 L1503.6,1067.2 L1503.9,1064.2 L1504.2,1061.3 L1504.5,1058.3 L1504.8,1055.2 L1505.1,1051.9 L1505.4,1048.6 L1505.6,1045.2 L1505.9,1041.8 L1506.2,1038.3 L1506.5,1034.9 L1506.8,1031.6 L1507.1,1028.4 L1507.4,1025.4 L1507.7,1022.5 L1507.9,1019.8 L1508.2,1017.4 L1508.5,1015.2 L1508.8,1013.3 L1509.1,1011.8 L1509.9,1008.4 L1510.7,1005.6 L1511.5,1003.3 L1512.4,1001.3 L1513.2,999.2 L1514.0,997.0 L1514.9,994.4 L1515.8,991.7 L1516.7,989.0 L1517.5,986.4 L1518.4,983.9 L1519.3,981.7 L1520.2,979.7 L1521.4,977.4 L1522.7,975.5 L1523.9,973.5 L1525.1,975.7 L1526.4,978.0 L1527.6,980.2 L1528.9,982.4 L1530.1,984.6 L1531.3,986.8 L1532.6,989.0 L1533.8,991.1 L1535.1,993.3 L1537.9,993.0 L1540.7,992.8 L1543.4,992.4 L1546.2,992.0 L1548.7,991.2 L1551.2,989.8 L1553.6,988.0 L1556.1,986.2 L1558.6,984.6 L1561.1,983.1 L1563.5,981.4 L1566.0,979.9 L1568.4,978.4 L1570.9,977.2 L1573.4,976.2 L1575.9,975.4 L1578.3,974.6 L1580.8,973.8 L1583.3,973.1 L1585.8,972.3 L1588.6,971.2 L1591.3,969.9 L1594.1,968.9 L1596.9,968.5 L1599.6,968.8 L1602.3,969.4 L1605.1,970.4 L1607.8,971.4 L1610.5,972.3 L1613.0,973.0 L1615.4,973.8 L1617.9,974.6 L1620.4,975.4 L1622.8,976.3 L1625.3,977.2 L1627.8,978.4 L1630.3,979.7 L1632.8,981.2 L1635.2,982.6 L1637.7,983.8 L1640.2,984.6 L1642.7,985.2 L1645.1,985.7 L1647.6,986.2 L1650.0,986.5 L1652.5,986.6 L1655.4,986.6 L1658.3,986.6 L1661.2,986.6 L1664.0,986.6 L1666.9,986.6 L1669.8,986.6 L1672.5,986.6 L1675.3,986.5 L1678.0,986.5 L1680.8,986.4 L1683.5,986.2 L1686.3,986.1 L1689.0,986.0 L1691.8,985.8 L1694.5,985.7 L1697.3,985.5 L1700.0,985.4 L1702.8,985.3 L1705.7,985.1 L1708.5,984.9 L1711.4,984.7 L1714.2,984.5 L1717.1,984.3 L1719.9,984.1 L1722.8,983.9 L1725.6,983.8 L1728.5,983.7 L1731.3,983.7 L1733.7,983.9 L1736.0,984.4 L1738.4,985.1 L1740.7,985.9 L1743.1,986.8 L1745.5,988.2 L1747.8,990.2 L1750.2,992.3 L1752.5,994.0 L1754.9,994.7 L1757.9,994.7 L1760.8,994.7 L1763.8,994.7 L1766.7,994.7 L1769.7,994.7 L1772.7,994.7 L1775.6,994.7 L1778.6,994.7 L1781.5,994.7 L1784.5,994.7 L1787.5,994.7 L1790.4,994.7 L1793.4,994.7 L1796.3,994.7 L1799.3,994.7 L1802.3,994.7 L1805.2,994.7 L1808.2,994.7 L1811.1,994.7 L1814.1,994.7 L1817.1,994.7 L1820.1,994.7 L1823.0,994.7 L1826.0,994.7 L1829.0,994.7 L1832.0,994.7 L1835.0,994.7 L1837.9,994.7 L1840.9,994.7 L1843.9,994.6 L1846.9,994.6 L1849.9,994.6 L1852.8,994.6 L1855.8,994.6 L1858.8,994.6 L1861.8,994.6 L1864.7,994.5 L1867.7,994.5 L1870.7,994.5 L1873.7,994.5 L1876.7,994.5 L1879.6,994.5 L1882.6,994.4 L1885.6,994.4 L1888.6,994.4 L1891.6,994.4 L1894.5,994.4 L1897.5,994.3 L1900.5,994.3 L1903.5,994.3 L1906.5,994.3 L1909.4,994.3 L1912.4,994.2 L1915.4,994.2 L1918.4,994.2 L1921.4,994.2 L1924.3,994.2 L1927.3,994.1 L1930.3,994.1 L1933.3,994.1 L1936.2,994.1 L1939.2,994.1 L1942.2,994.0 L1945.2,994.0 L1948.2,994.0 L1951.1,994.0 L1954.1,994.0 L1957.1,994.0 L1960.1,993.9 L1963.1,993.9 L1966.0,993.9 L1969.0,993.9 L1972.0,993.9 L1975.0,993.9 L1978.0,993.9 L1980.9,993.9 L1983.9,993.9 L1986.9,993.9 L1989.9,993.8 L1992.8,993.8 L1995.8,993.8 L1998.8,993.8 L2001.8,993.8 L2004.7,993.8 L2007.7,993.8 L2010.7,993.8 L2013.7,993.8 L2016.6,993.8 L2019.6,993.8 L2022.6,993.7 L2025.6,993.7 L2028.5,993.7 L2031.5,993.7 L2034.5,993.7 L2037.5,993.7 L2040.4,993.7 L2043.4,993.7 L2046.4,993.7 L2049.4,993.7 L2052.4,993.7 L2055.3,993.7 L2058.3,993.7 L2061.3,993.6 L2064.3,993.6 L2067.2,993.6 L2070.2,993.6 L2073.2,993.6 L2076.2,993.6 L2079.1,993.6 L2082.1,993.6 L2085.1,993.6 L2088.1,993.6 L2091.0,993.6 L2094.0,993.6 L2097.0,993.6 L2100.0,993.6 L2102.9,993.5 L2105.9,993.5 L2108.9,993.5 L2111.9,993.5 L2114.8,993.5 L2117.8,993.5 L2120.8,993.5" fill="none" stroke="#000000" stroke-width="12.1" stroke-linejoin="round" stroke-linecap="butt"/>
<path d="M832.5,36.5 L832.2,98.5 M832.0,145.1 L831.7,207.1 M831.5,253.7 L831.2,315.7 M831.0,362.3 L830.7,424.3 M830.4,470.9 L830.2,532.9 M829.9,579.5 L829.6,641.5 M829.4,688.1 L829.1,750.1 M828.9,796.7 L828.6,858.7 M828.4,905.3 L828.1,967.3 M827.9,1013.9 L827.6,1075.9 M827.4,1122.5 L827.1,1184.5 M826.9,1231.1 L826.6,1293.1 M826.3,1339.7 L826.0,1401.7 M825.8,1448.3 L825.5,1510.3 M825.3,1556.9 L825.0,1618.9 M824.8,1665.5 L824.5,1727.5" fill="none" stroke="#ffc000" stroke-width="15"/>
<path d="M1493.6,44.0 L1493.4,106.0 M1493.3,152.6 L1493.2,214.6 M1493.0,261.2 L1492.9,323.2 M1492.8,369.8 L1492.6,431.8 M1492.5,478.4 L1492.3,540.4 M1492.2,587.0 L1492.1,649.0 M1491.9,695.6 L1491.8,757.6 M1491.7,804.2 L1491.5,866.2 M1491.4,912.8 L1491.2,974.8 M1491.1,1021.4 L1491.0,1083.4 M1490.8,1130.0 L1490.7,1192.0 M1490.6,1238.6 L1490.4,1300.6 M1490.3,1347.2 L1490.1,1409.2 M1490.0,1455.8 L1489.9,1517.8 M1489.7,1564.4 L1489.6,1626.4 M1489.5,1673.0 L1489.3,1735.0" fill="none" stroke="#ffc000" stroke-width="15"/>
<rect x="1586" y="199" width="687.3" height="289" fill="#fff" stroke="#6a6a6a" stroke-width="4.4"/>
<path d="M1603.3,240.7 H1782.6" stroke="#ff0000" stroke-width="12.1" stroke-dasharray="46.5 46.5" fill="none"/>
<text x="1795" y="262.8" font-family="'Liberation Sans', Arial, Helvetica, sans-serif" font-size="53.7" fill="#262626">Desired roll angle</text>
<path d="M1603.3,309.3 H1782.6" stroke="#00ff00" stroke-width="12.1" fill="none"/>
<text x="1795" y="331.2" font-family="'Liberation Sans', Arial, Helvetica, sans-serif" font-size="53.7" fill="#262626">Roll angle</text>
<path d="M1603.3,378.4 H1782.6" stroke="#0000ff" stroke-width="12.1" stroke-dasharray="46.5 46.5" fill="none"/>
<text x="1795" y="399.7" font-family="'Liberation Sans', Arial, Helvetica, sans-serif" font-size="53.7" fill="#262626">Desired pitch angle</text>
<path d="M1603.3,447.2 H1782.6" stroke="#000000" stroke-width="12.1" fill="none"/>
<text x="1795" y="468.8" font-family="'Liberation Sans', Arial, Helvetica, sans-serif" font-size="53.7" fill="#262626">Pitch angle</text>
<g font-family="'Liberation Sans', Arial, Helvetica, sans-serif" font-size="76.5" fill="#000" stroke="#000" stroke-width="0.8" stroke-linejoin="round">
<text x="488.2" y="73.4" text-anchor="middle" textLength="413" lengthAdjust="spacingAndGlyphs">Preparation</text>
<text x="487" y="167.2" text-anchor="middle" textLength="174" lengthAdjust="spacingAndGlyphs">state</text>
<text x="1161.5" y="71" text-anchor="middle" textLength="394.5" lengthAdjust="spacingAndGlyphs">Adsorption</text>
<text x="1161.2" y="163.7" text-anchor="middle" textLength="174" lengthAdjust="spacingAndGlyphs">state</text>
<text x="1762.3" y="73.4" text-anchor="middle" textLength="201.5" lengthAdjust="spacingAndGlyphs">Roost</text>
<text x="1762" y="167.2" text-anchor="middle" textLength="174" lengthAdjust="spacingAndGlyphs">state</text>
</g>
</g>
</svg>
</body></html>
